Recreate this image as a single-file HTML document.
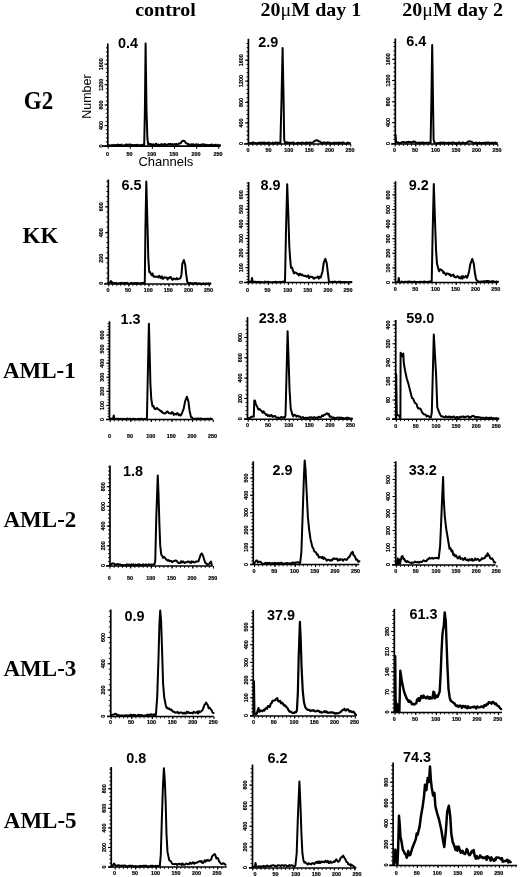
<!DOCTYPE html>
<html><head><meta charset="utf-8"><style>
html,body{margin:0;padding:0;background:#fff;width:520px;height:877px;overflow:hidden}
svg{position:absolute;left:0;top:0;filter:grayscale(1)}
.ax{stroke:#000;stroke-width:1.7;fill:none}
.mt{stroke:#000;stroke-width:0.9;fill:none}
.xm{stroke:#000;stroke-width:1;stroke-dasharray:0.8 4.2;fill:none}
.tk{stroke:#000;stroke-width:1.1;fill:none}
.tl{font-family:"Liberation Sans",sans-serif;font-weight:bold;font-size:5.4px;text-anchor:middle;fill:#000;stroke:#000;stroke-width:0.2px}
.num{font-family:"Liberation Sans",sans-serif;font-weight:bold;font-size:14.4px;fill:#000}
.cv{stroke:#000;stroke-width:2;fill:none;stroke-linejoin:round;stroke-linecap:round}
.hd{font-family:"Liberation Serif",serif;font-weight:bold;font-size:20px;fill:#000}
.rl{font-family:"Liberation Serif",serif;font-weight:bold;font-size:23px;fill:#000}
.al{font-family:"Liberation Sans",sans-serif;font-size:13px;fill:#000}
</style></head><body>
<svg width="520" height="877" viewBox="0 0 520 877">
<text class="hd" transform="translate(135.2 16.4) scale(1 0.9)">control</text>
<text class="hd" transform="translate(260.6 16.2) scale(1 0.9)">20<tspan font-weight="normal">&#956;</tspan>M day 1</text>
<text class="hd" transform="translate(402.3 16.2) scale(1 0.9)">20<tspan font-weight="normal">&#956;</tspan>M day 2</text>
<text class="rl" transform="translate(23.8 109.3) scale(1 1.05)">G2</text>
<text class="rl" x="22.5" y="243">KK</text>
<text class="rl" x="2.9" y="378.1">AML-1</text>
<text class="rl" x="3.5" y="526.5">AML-2</text>
<text class="rl" x="3.5" y="675.8">AML-3</text>
<text class="rl" x="3.8" y="827.5">AML-5</text>
<text class="al" style="font-size:12.5px" transform="translate(90.6 96.6) rotate(-90)" text-anchor="middle">Number</text>
<text class="al" x="138.4" y="165.6">Channels</text>
<path d="M107.8 43.5V146.2" class="ax"/>
<path d="M102 146.2H220.4" class="ax"/>
<path d="M105.8 141.91H107.8M105.8 137.82H107.8M105.8 133.73H107.8M105.8 129.64H107.8M105.8 125.55H107.8M105.8 121.46H107.8M105.8 117.37H107.8M105.8 113.28H107.8M105.8 109.19H107.8M105.8 105.1H107.8M105.8 101.01H107.8M105.8 96.92H107.8M105.8 92.83H107.8M105.8 88.74H107.8M105.8 84.65H107.8M105.8 80.56H107.8M105.8 76.47H107.8M105.8 72.38H107.8M105.8 68.29H107.8M105.8 64.2H107.8M105.8 60.11H107.8M105.8 56.02H107.8M105.8 51.93H107.8M105.8 47.84H107.8" class="mt"/>
<path d="M104.6 146H107.8" class="tk"/>
<text class="tl" transform="translate(102.5 146) rotate(-90)">0</text>
<path d="M104.6 125.6H107.8" class="tk"/>
<text class="tl" transform="translate(102.5 125.6) rotate(-90)">400</text>
<path d="M104.6 105H107.8" class="tk"/>
<text class="tl" transform="translate(102.5 105) rotate(-90)">800</text>
<path d="M104.6 84.8H107.8" class="tk"/>
<text class="tl" transform="translate(102.5 84.8) rotate(-90)">1200</text>
<path d="M104.6 64.2H107.8" class="tk"/>
<text class="tl" transform="translate(102.5 64.2) rotate(-90)">1600</text>
<path d="M108.2 146.2V148.8" class="tk"/>
<text class="tl" x="107.5" y="156">0</text>
<path d="M130.3 146.2V148.8" class="tk"/>
<text class="tl" x="129.6" y="156">50</text>
<path d="M152.4 146.2V148.8" class="tk"/>
<text class="tl" x="151.7" y="156">100</text>
<path d="M174.5 146.2V148.8" class="tk"/>
<text class="tl" x="173.8" y="156">150</text>
<path d="M196.6 146.2V148.8" class="tk"/>
<text class="tl" x="195.9" y="156">200</text>
<path d="M218.7 146.2V148.8" class="tk"/>
<text class="tl" x="218" y="156">250</text>
<text class="num" x="118" y="47.6">0.4</text>
<path d="M108 145.3 L108.8 145.23 L109.6 145.34 L110.4 145.75 L111.2 145.2 L112 145.24 L112.8 145.32 L113.6 144.82 L114.4 145.2 L115.2 145.33 L116 145.52 L116.8 144.65 L117.6 144.89 L118.4 144.61 L119.2 145.5 L120 145.09 L120.8 145.34 L121.6 144.51 L122.4 145.69 L123.2 145.67 L124 145.27 L124.8 145.22 L125.6 144.63 L126.4 144.44 L127.2 145.09 L128 144.49 L128.8 144.65 L129.6 144.71 L130.4 144.44 L131.2 144.99 L132 144.96 L132.8 145.47 L133.6 145.05 L134.4 145.2 L135.2 145.02 L136 145.23 L136.8 144.95 L137.6 144.72 L138.4 145.66 L139.2 145.65 L140 144.99 L140.84 145.44 L141.68 145.27 L142.52 144.75 L143.36 144.64 L144.2 144.99 L144.9 110.33 L145.6 43.5 L146.5 110.33 L147.4 138.46 L148.2 144.29 L149.04 143.97 L149.89 143.65 L150.73 144.81 L151.57 144.25 L152.41 144.99 L153.26 144.28 L154.1 145.21 L154.94 145.06 L155.79 143.78 L156.63 144.13 L157.47 145.23 L158.31 144.59 L159.16 145.38 L160 144.69 L160.82 144.53 L161.64 144.04 L162.45 144.86 L163.27 145.07 L164.09 144.3 L164.91 144.02 L165.73 144.38 L166.55 145.32 L167.36 145 L168.18 144.02 L169 144.21 L169.82 143.97 L170.64 143.9 L171.45 145.02 L172.27 144.06 L173.09 144.64 L173.91 144.46 L174.73 144.05 L175.55 144.88 L176.36 143.93 L177.18 144.73 L178 144.49 L178.83 143.42 L179.67 143.54 L180.5 143.29 L182 141.28 L183.3 140.67 L184.6 141.28 L186 143.29 L187 143.36 L188 144.49 L188.8 144.16 L189.6 145.27 L190.4 145.04 L191.2 144.3 L192 145.21 L192.8 144.22 L193.6 144.52 L194.4 145.23 L195.2 144.94 L196 144.18 L196.8 145.48 L197.6 144.41 L198.4 144.5 L199.2 145.24 L200 144.89 L200.8 144.67 L201.6 144.63 L202.4 144.34 L203.2 144.37 L204 145.05 L204.8 144.6 L205.6 145.09 L206.4 144.79 L207.2 144.9 L208 145.58 L208.8 144.96 L209.6 145.09 L210.4 145.48 L211.2 144.59 L212 144.56 L212.8 145.55 L213.6 145.44 L214.4 144.71 L215.2 144.65 L216 145.36 L216.8 145.63 L217.6 144.68 L218.4 145.65 L219.2 145.57 L220 145.09" class="cv"/>
<path d="M248.4 38.7V144" class="ax"/>
<path d="M244 144H350.4" class="ax"/>
<path d="M246.4 139.43H248.4M246.4 135.26H248.4M246.4 131.09H248.4M246.4 126.92H248.4M246.4 122.75H248.4M246.4 118.58H248.4M246.4 114.41H248.4M246.4 110.24H248.4M246.4 106.07H248.4M246.4 101.9H248.4M246.4 97.73H248.4M246.4 93.56H248.4M246.4 89.39H248.4M246.4 85.22H248.4M246.4 81.05H248.4M246.4 76.88H248.4M246.4 72.71H248.4M246.4 68.54H248.4M246.4 64.37H248.4M246.4 60.2H248.4M246.4 56.03H248.4M246.4 51.86H248.4M246.4 47.69H248.4M246.4 43.52H248.4" class="mt"/>
<path d="M252.78 144V145.9M256.86 144V145.9M260.94 144V145.9M265.02 144V145.9M269.1 144V145.9M273.18 144V145.9M277.26 144V145.9M281.34 144V145.9M285.42 144V145.9M289.5 144V145.9M293.58 144V145.9M297.66 144V145.9M301.74 144V145.9M305.82 144V145.9M309.9 144V145.9M313.98 144V145.9M318.06 144V145.9M322.14 144V145.9M326.22 144V145.9M330.3 144V145.9M334.38 144V145.9M338.46 144V145.9M342.54 144V145.9M346.62 144V145.9" class="mt"/>
<path d="M245.2 143.6H248.4" class="tk"/>
<text class="tl" transform="translate(243.1 143.6) rotate(-90)">0</text>
<path d="M245.2 123H248.4" class="tk"/>
<text class="tl" transform="translate(243.1 123) rotate(-90)">400</text>
<path d="M245.2 102.4H248.4" class="tk"/>
<text class="tl" transform="translate(243.1 102.4) rotate(-90)">800</text>
<path d="M245.2 81.1H248.4" class="tk"/>
<text class="tl" transform="translate(243.1 81.1) rotate(-90)">1200</text>
<path d="M245.2 60.2H248.4" class="tk"/>
<text class="tl" transform="translate(243.1 60.2) rotate(-90)">1600</text>
<path d="M248.7 144V146.6" class="tk"/>
<text class="tl" x="248" y="151.8">0</text>
<path d="M269.1 144V146.6" class="tk"/>
<text class="tl" x="268.4" y="151.8">50</text>
<path d="M289.5 144V146.6" class="tk"/>
<text class="tl" x="288.8" y="151.8">100</text>
<path d="M309.9 144V146.6" class="tk"/>
<text class="tl" x="309.2" y="151.8">150</text>
<path d="M330.3 144V146.6" class="tk"/>
<text class="tl" x="329.6" y="151.8">200</text>
<path d="M350.7 144V146.6" class="tk"/>
<text class="tl" x="350" y="151.8">250</text>
<text class="num" x="258.3" y="46.8">2.9</text>
<path d="M249 143 L249.81 142.96 L250.62 143.18 L251.42 143.2 L252.23 142.57 L253.04 142.41 L253.85 142.84 L254.65 142.72 L255.46 143.37 L256.27 143.22 L257.08 143.12 L257.88 143.07 L258.69 143.19 L259.5 142.57 L260.31 142.92 L261.12 142.59 L261.92 143.48 L262.73 142.46 L263.54 143.38 L264.35 142.48 L265.15 143.22 L265.96 142.8 L266.77 142.88 L267.58 143.41 L268.38 142.42 L269.19 142.47 L270 143 L270.87 143.49 L271.73 143.01 L272.6 142.5 L273.47 143.58 L274.33 143.53 L275.2 142.53 L276.07 142.9 L276.93 142.56 L277.8 142.77 L278.67 143.14 L279.53 142.59 L280.4 143 L281.5 100.29 L282.6 48.04 L283.6 100.29 L284.2 139.48 L285 142.79 L285.83 143.06 L286.67 142.23 L287.5 142.4 L288.33 143.25 L289.17 142.72 L290 142.76 L290.83 142.99 L291.67 142.85 L292.5 142.75 L293.33 142.32 L294.17 143.2 L295 143.51 L295.83 143.53 L296.67 143.15 L297.5 142.79 L298.33 142.81 L299.17 143.21 L300 143 L300.8 143.19 L301.6 142.5 L302.4 142.63 L303.2 142.77 L304 142.94 L304.8 143.3 L305.6 142.9 L306.4 142.29 L307.2 143.29 L308 142.77 L308.8 142.87 L309.6 142.47 L310.4 142.73 L311.2 142.66 L312 142.79 L313 142.59 L314 141.49 L315.5 140.48 L316.6 140.28 L317.8 140.48 L319 141.49 L320 141.55 L321 142.89 L321.81 142.96 L322.61 142.5 L323.42 143.16 L324.22 142.34 L325.03 142.64 L325.83 142.73 L326.64 143.1 L327.44 142.39 L328.25 142.89 L329.06 142.59 L329.86 142.69 L330.67 142.93 L331.47 143.53 L332.28 142.95 L333.08 143.53 L333.89 142.58 L334.69 143.5 L335.5 142.83 L336.31 142.63 L337.11 143.3 L337.92 143.5 L338.72 142.43 L339.53 142.75 L340.33 143.35 L341.14 142.85 L341.94 142.74 L342.75 142.47 L343.56 142.51 L344.36 143.2 L345.17 143.62 L345.97 143.65 L346.78 143.08 L347.58 142.53 L348.39 142.88 L349.19 143.42 L350 143.1" class="cv"/>
<path d="M395.3 38.5V144" class="ax"/>
<path d="M391 144H497" class="ax"/>
<path d="M393.3 139.38H395.3M393.3 135.17H395.3M393.3 130.95H395.3M393.3 126.74H395.3M393.3 122.52H395.3M393.3 118.31H395.3M393.3 114.09H395.3M393.3 109.88H395.3M393.3 105.66H395.3M393.3 101.45H395.3M393.3 97.23H395.3M393.3 93.02H395.3M393.3 88.8H395.3M393.3 84.59H395.3M393.3 80.37H395.3M393.3 76.16H395.3M393.3 71.94H395.3M393.3 67.73H395.3M393.3 63.51H395.3M393.3 59.3H395.3M393.3 55.08H395.3M393.3 50.87H395.3M393.3 46.65H395.3M393.3 42.44H395.3" class="mt"/>
<path d="M399.3 144V145.9M403.4 144V145.9M407.5 144V145.9M411.6 144V145.9M415.7 144V145.9M419.8 144V145.9M423.9 144V145.9M428 144V145.9M432.1 144V145.9M436.2 144V145.9M440.3 144V145.9M444.4 144V145.9M448.5 144V145.9M452.6 144V145.9M456.7 144V145.9M460.8 144V145.9M464.9 144V145.9M469 144V145.9M473.1 144V145.9M477.2 144V145.9M481.3 144V145.9M485.4 144V145.9M489.5 144V145.9M493.6 144V145.9" class="mt"/>
<path d="M392.1 143.6H395.3" class="tk"/>
<text class="tl" transform="translate(390 143.6) rotate(-90)">0</text>
<path d="M392.1 122.6H395.3" class="tk"/>
<text class="tl" transform="translate(390 122.6) rotate(-90)">400</text>
<path d="M392.1 101.8H395.3" class="tk"/>
<text class="tl" transform="translate(390 101.8) rotate(-90)">800</text>
<path d="M392.1 80.5H395.3" class="tk"/>
<text class="tl" transform="translate(390 80.5) rotate(-90)">1200</text>
<path d="M392.1 59.3H395.3" class="tk"/>
<text class="tl" transform="translate(390 59.3) rotate(-90)">1600</text>
<path d="M395.2 144V146.6" class="tk"/>
<text class="tl" x="394.5" y="151.8">0</text>
<path d="M415.7 144V146.6" class="tk"/>
<text class="tl" x="415" y="151.8">50</text>
<path d="M436.2 144V146.6" class="tk"/>
<text class="tl" x="435.5" y="151.8">100</text>
<path d="M456.7 144V146.6" class="tk"/>
<text class="tl" x="456" y="151.8">150</text>
<path d="M477.2 144V146.6" class="tk"/>
<text class="tl" x="476.5" y="151.8">200</text>
<path d="M497.7 144V146.6" class="tk"/>
<text class="tl" x="497" y="151.8">250</text>
<text class="num" x="406.2" y="46.4">6.4</text>
<path d="M395.6 134.96 L396 141.49 L397.5 142.79 L398.33 142.44 L399.17 142.98 L400 142.95 L400.83 143.15 L401.67 142.18 L402.5 142.21 L403.33 142.05 L404.17 142.13 L405 142.49 L405.88 142.79 L406.75 141.83 L407.62 142.39 L408.5 141.84 L409.38 141.91 L410.25 142.08 L411.12 142.69 L412 142.09 L412.8 142.31 L413.6 141.38 L414.4 141.85 L415.2 141.69 L416 142.87 L416.8 142.81 L417.6 142.84 L418.4 142.91 L419.2 142.82 L420 142.49 L420.82 143.18 L421.63 142.99 L422.45 142.26 L423.26 143.14 L424.08 142.67 L424.89 143.07 L425.71 142.85 L426.52 142.71 L427.34 142.67 L428.15 142.79 L428.97 142.69 L429.78 142.49 L430.6 143 L431.4 100.29 L432.2 45.03 L433 100.29 L433.6 139.48 L434.5 142.79 L435.32 143.22 L436.13 143.2 L436.95 143.46 L437.76 143.08 L438.58 142.92 L439.39 143.18 L440.21 142.4 L441.03 143.1 L441.84 142.82 L442.66 142.49 L443.47 142.54 L444.29 142.95 L445.11 142.63 L445.92 142.89 L446.74 143.08 L447.55 142.84 L448.37 142.53 L449.18 142.97 L450 143 L450.8 142.67 L451.6 142.65 L452.4 142.59 L453.2 142.79 L454 142.42 L454.8 143.12 L455.6 143.49 L456.4 142.78 L457.2 143.18 L458 143.44 L458.8 142.31 L459.6 142.42 L460.4 143.26 L461.2 143.29 L462 143.02 L462.8 142.39 L463.6 142.71 L464.4 143.3 L465.2 143.31 L466 142.79 L467 142.72 L468 141.69 L469.5 141.29 L471 141.69 L472 141.83 L473 142.89 L473.8 143.35 L474.6 142.75 L475.4 143.19 L476.2 142.47 L477 143.51 L477.8 143.06 L478.6 143.22 L479.4 142.59 L480.2 143.1 L481 143.06 L481.8 143.08 L482.6 142.8 L483.4 143.26 L484.2 142.8 L485 142.75 L485.8 142.6 L486.6 143.23 L487.4 142.55 L488.2 142.7 L489 142.52 L489.8 143.2 L490.6 143.11 L491.4 143.1 L492.2 142.52 L493 142.99 L493.8 142.89 L494.6 142.61 L495.4 142.51 L496.2 143.66 L497 143.1" class="cv"/>
<path d="M108.3 179.5V284" class="ax"/>
<path d="M104 284H210.8" class="ax"/>
<path d="M106.3 278.2H108.3M106.3 273.1H108.3M106.3 268H108.3M106.3 262.9H108.3M106.3 257.8H108.3M106.3 252.7H108.3M106.3 247.6H108.3M106.3 242.5H108.3M106.3 237.4H108.3M106.3 232.3H108.3M106.3 227.2H108.3M106.3 222.1H108.3M106.3 217H108.3M106.3 211.9H108.3M106.3 206.8H108.3M106.3 201.7H108.3M106.3 196.6H108.3M106.3 191.5H108.3M106.3 186.4H108.3M106.3 181.3H108.3" class="mt"/>
<path d="M112.72 284V285.9M116.74 284V285.9M120.76 284V285.9M124.78 284V285.9M128.8 284V285.9M132.82 284V285.9M136.84 284V285.9M140.86 284V285.9M144.88 284V285.9M148.9 284V285.9M152.92 284V285.9M156.94 284V285.9M160.96 284V285.9M164.98 284V285.9M169 284V285.9M173.02 284V285.9M177.04 284V285.9M181.06 284V285.9M185.08 284V285.9M189.1 284V285.9M193.12 284V285.9M197.14 284V285.9M201.16 284V285.9M205.18 284V285.9M209.2 284V285.9" class="mt"/>
<path d="M105.1 283.3H108.3" class="tk"/>
<text class="tl" transform="translate(103 283.3) rotate(-90)">0</text>
<path d="M105.1 258.2H108.3" class="tk"/>
<text class="tl" transform="translate(103 258.2) rotate(-90)">200</text>
<path d="M105.1 232.8H108.3" class="tk"/>
<text class="tl" transform="translate(103 232.8) rotate(-90)">400</text>
<path d="M105.1 206.8H108.3" class="tk"/>
<text class="tl" transform="translate(103 206.8) rotate(-90)">600</text>
<path d="M108.7 284V286.6" class="tk"/>
<text class="tl" x="108" y="292.1">0</text>
<path d="M128.8 284V286.6" class="tk"/>
<text class="tl" x="128.1" y="292.1">50</text>
<path d="M148.9 284V286.6" class="tk"/>
<text class="tl" x="148.2" y="292.1">100</text>
<path d="M169 284V286.6" class="tk"/>
<text class="tl" x="168.3" y="292.1">150</text>
<path d="M189.1 284V286.6" class="tk"/>
<text class="tl" x="188.4" y="292.1">200</text>
<path d="M209.2 284V286.6" class="tk"/>
<text class="tl" x="208.5" y="292.1">250</text>
<text class="num" x="121.5" y="190.3">6.5</text>
<path d="M108.5 283.3 L110 282.49 L111 280.99 L112 283 L112.8 282.63 L113.6 283.28 L114.4 283.24 L115.2 283.09 L116 282.83 L116.8 283.49 L117.6 283.54 L118.4 283.25 L119.2 283.27 L120 283.3 L120.8 283.03 L121.6 282.8 L122.4 283.17 L123.2 283.38 L124 282.86 L124.8 283.59 L125.6 283.03 L126.4 283.03 L127.2 282.84 L128 283.8 L128.8 283.54 L129.6 283.67 L130.4 283.41 L131.2 282.83 L132 283.12 L132.8 283.29 L133.6 282.91 L134.4 283.75 L135.2 283.16 L136 282.95 L136.8 283.62 L137.6 282.92 L138.4 283.73 L139.2 283.25 L140 283.35 L140.8 283.14 L141.6 283.28 L142.4 282.98 L143.2 282.83 L144 283.66 L144.8 283.3 L145.4 230.24 L146.3 181.51 L147.5 225.22 L148.3 258.38 L149.2 271.94 L150 271.84 L150.8 273.85 L151.66 275.26 L152.53 273.48 L153.39 276.6 L154.25 276.66 L155.11 276.5 L155.97 276.86 L156.84 276.58 L157.7 276.66 L158.52 277.52 L159.34 275.69 L160.16 276.93 L160.99 278.15 L161.81 276.31 L162.63 278.66 L163.45 278.66 L164.27 277.31 L165.09 277.29 L165.91 277.67 L166.74 277.59 L167.56 279.49 L168.38 277.83 L169.2 278.27 L170.05 276.99 L170.89 277.25 L171.74 279.08 L172.58 279.91 L173.43 278.58 L174.27 278.63 L175.12 278.86 L175.96 279.46 L176.81 278.09 L177.65 279.21 L178.5 278.98 L179.5 278.63 L180.5 277.97 L181.5 274.45 L182.3 263.9 L183.8 259.99 L185.2 264.61 L186.1 273.85 L187.3 281.99 L188.15 282.81 L189 283.3 L189.83 282.98 L190.65 282.98 L191.48 283.17 L192.31 283.75 L193.13 283.19 L193.96 283.44 L194.79 283.16 L195.62 282.98 L196.44 282.95 L197.27 283.67 L198.1 283.64 L198.92 283.27 L199.75 283.57 L200.58 283.57 L201.4 283.78 L202.23 283.84 L203.06 283.34 L203.88 283.88 L204.71 283.86 L205.54 283.53 L206.37 283.8 L207.19 283.46 L208.02 283.37 L208.85 283.26 L209.67 283.81 L210.5 283.5" class="cv"/>
<path d="M248.6 182V282.5" class="ax"/>
<path d="M244 282.5H351.8" class="ax"/>
<path d="M246.6 279.38H248.6M246.6 276.46H248.6M246.6 273.54H248.6M246.6 270.62H248.6M246.6 267.7H248.6M246.6 264.78H248.6M246.6 261.86H248.6M246.6 258.94H248.6M246.6 256.02H248.6M246.6 253.1H248.6M246.6 250.18H248.6M246.6 247.26H248.6M246.6 244.34H248.6M246.6 241.42H248.6M246.6 238.5H248.6M246.6 235.58H248.6M246.6 232.66H248.6M246.6 229.74H248.6M246.6 226.82H248.6M246.6 223.9H248.6M246.6 220.98H248.6M246.6 218.06H248.6M246.6 215.14H248.6M246.6 212.22H248.6M246.6 209.3H248.6M246.6 206.38H248.6M246.6 203.46H248.6M246.6 200.54H248.6M246.6 197.62H248.6M246.6 194.7H248.6M246.6 191.78H248.6M246.6 188.86H248.6M246.6 185.94H248.6M246.6 183.02H248.6" class="mt"/>
<path d="M252.22 282.5V284.4M256.24 282.5V284.4M260.26 282.5V284.4M264.28 282.5V284.4M268.3 282.5V284.4M272.32 282.5V284.4M276.34 282.5V284.4M280.36 282.5V284.4M284.38 282.5V284.4M288.4 282.5V284.4M292.42 282.5V284.4M296.44 282.5V284.4M300.46 282.5V284.4M304.48 282.5V284.4M308.5 282.5V284.4M312.52 282.5V284.4M316.54 282.5V284.4M320.56 282.5V284.4M324.58 282.5V284.4M328.6 282.5V284.4M332.62 282.5V284.4M336.64 282.5V284.4M340.66 282.5V284.4M344.68 282.5V284.4M348.7 282.5V284.4" class="mt"/>
<path d="M245.4 282.3H248.6" class="tk"/>
<text class="tl" transform="translate(243.3 282.3) rotate(-90)">0</text>
<path d="M245.4 267.7H248.6" class="tk"/>
<text class="tl" transform="translate(243.3 267.7) rotate(-90)">100</text>
<path d="M245.4 253.1H248.6" class="tk"/>
<text class="tl" transform="translate(243.3 253.1) rotate(-90)">200</text>
<path d="M245.4 238.5H248.6" class="tk"/>
<text class="tl" transform="translate(243.3 238.5) rotate(-90)">300</text>
<path d="M245.4 223.9H248.6" class="tk"/>
<text class="tl" transform="translate(243.3 223.9) rotate(-90)">400</text>
<path d="M245.4 209.3H248.6" class="tk"/>
<text class="tl" transform="translate(243.3 209.3) rotate(-90)">500</text>
<path d="M245.4 194.7H248.6" class="tk"/>
<text class="tl" transform="translate(243.3 194.7) rotate(-90)">600</text>
<path d="M248.2 282.5V285.1" class="tk"/>
<text class="tl" x="247.5" y="292.1">0</text>
<path d="M268.3 282.5V285.1" class="tk"/>
<text class="tl" x="267.6" y="292.1">50</text>
<path d="M288.4 282.5V285.1" class="tk"/>
<text class="tl" x="287.7" y="292.1">100</text>
<path d="M308.5 282.5V285.1" class="tk"/>
<text class="tl" x="307.8" y="292.1">150</text>
<path d="M328.6 282.5V285.1" class="tk"/>
<text class="tl" x="327.9" y="292.1">200</text>
<path d="M348.7 282.5V285.1" class="tk"/>
<text class="tl" x="348" y="292.1">250</text>
<text class="num" x="260.5" y="190">8.9</text>
<path d="M248 282 L248.88 282.39 L249.75 281.69 L250.62 281.59 L251.5 282 L252 277.98 L252.8 282 L253.61 282.42 L254.41 281.73 L255.22 281.67 L256.02 282.13 L256.82 281.87 L257.63 282.33 L258.44 281.77 L259.24 282.39 L260.05 281.84 L260.85 282.08 L261.66 282.37 L262.46 282.16 L263.26 282.36 L264.07 282.17 L264.88 281.61 L265.68 282.32 L266.49 282.07 L267.29 281.84 L268.1 281.73 L268.9 282.3 L269.7 282.07 L270.51 282.37 L271.31 282.23 L272.12 282.39 L272.93 282.05 L273.73 282.17 L274.54 282.09 L275.34 281.79 L276.14 282.39 L276.95 281.84 L277.75 282.24 L278.56 282.38 L279.37 282.13 L280.17 281.69 L280.98 282.27 L281.78 282.14 L282.58 281.73 L283.39 281.61 L284.19 282.02 L285 282 L286 230.24 L287.2 184.21 L288.4 216.17 L289.3 246.22 L290.2 259.38 L291 267.83 L292.1 267.62 L293.2 271.44 L294 273.51 L294.8 272.27 L295.6 272.72 L296.4 272.72 L297.2 274.04 L298 273.86 L298.86 275.56 L299.71 273.71 L300.57 274.21 L301.43 275.16 L302.29 274.49 L303.14 275.71 L304 275.67 L304.86 275.97 L305.71 275.81 L306.57 276.71 L307.43 276.44 L308.29 275.32 L309.14 278.13 L310 276.87 L310.86 276.58 L311.71 276.91 L312.57 276.95 L313.43 278.5 L314.29 278.67 L315.14 277.59 L316 277.68 L316.94 277.37 L317.88 276.52 L318.82 278.61 L319.76 276.63 L320.7 277.48 L322.5 271.44 L323.7 263 L325.3 258.78 L326.7 263 L327.7 271.44 L328.9 281.09 L330.3 282 L331.12 282.04 L331.93 281.87 L332.75 281.85 L333.56 281.88 L334.38 281.73 L335.19 281.6 L336.01 282.03 L336.82 282.25 L337.64 282.12 L338.45 281.74 L339.27 282.16 L340.08 281.62 L340.9 281.92 L341.72 282.28 L342.53 282.36 L343.35 281.96 L344.16 282.29 L344.98 282 L345.79 282.02 L346.61 282.07 L347.42 282.42 L348.24 282.2 L349.05 281.97 L349.87 282.19 L350.68 282.12 L351.5 282" class="cv"/>
<path d="M395.5 181.25V282.5" class="ax"/>
<path d="M392 282.5H498" class="ax"/>
<path d="M393.5 279.58H395.5M393.5 276.66H395.5M393.5 273.74H395.5M393.5 270.82H395.5M393.5 267.9H395.5M393.5 264.98H395.5M393.5 262.06H395.5M393.5 259.14H395.5M393.5 256.22H395.5M393.5 253.3H395.5M393.5 250.38H395.5M393.5 247.46H395.5M393.5 244.54H395.5M393.5 241.62H395.5M393.5 238.7H395.5M393.5 235.78H395.5M393.5 232.86H395.5M393.5 229.94H395.5M393.5 227.02H395.5M393.5 224.1H395.5M393.5 221.18H395.5M393.5 218.26H395.5M393.5 215.34H395.5M393.5 212.42H395.5M393.5 209.5H395.5M393.5 206.58H395.5M393.5 203.66H395.5M393.5 200.74H395.5M393.5 197.82H395.5M393.5 194.9H395.5M393.5 191.98H395.5M393.5 189.06H395.5M393.5 186.14H395.5M393.5 183.22H395.5" class="mt"/>
<path d="M399.92 282.5V284.4M403.94 282.5V284.4M407.96 282.5V284.4M411.98 282.5V284.4M416 282.5V284.4M420.02 282.5V284.4M424.04 282.5V284.4M428.06 282.5V284.4M432.08 282.5V284.4M436.1 282.5V284.4M440.12 282.5V284.4M444.14 282.5V284.4M448.16 282.5V284.4M452.18 282.5V284.4M456.2 282.5V284.4M460.22 282.5V284.4M464.24 282.5V284.4M468.26 282.5V284.4M472.28 282.5V284.4M476.3 282.5V284.4M480.32 282.5V284.4M484.34 282.5V284.4M488.36 282.5V284.4M492.38 282.5V284.4M496.4 282.5V284.4" class="mt"/>
<path d="M392.3 282.5H395.5" class="tk"/>
<text class="tl" transform="translate(390.2 282.5) rotate(-90)">0</text>
<path d="M392.3 267.9H395.5" class="tk"/>
<text class="tl" transform="translate(390.2 267.9) rotate(-90)">100</text>
<path d="M392.3 253.3H395.5" class="tk"/>
<text class="tl" transform="translate(390.2 253.3) rotate(-90)">200</text>
<path d="M392.3 238.7H395.5" class="tk"/>
<text class="tl" transform="translate(390.2 238.7) rotate(-90)">300</text>
<path d="M392.3 224.1H395.5" class="tk"/>
<text class="tl" transform="translate(390.2 224.1) rotate(-90)">400</text>
<path d="M392.3 209.5H395.5" class="tk"/>
<text class="tl" transform="translate(390.2 209.5) rotate(-90)">500</text>
<path d="M392.3 194.9H395.5" class="tk"/>
<text class="tl" transform="translate(390.2 194.9) rotate(-90)">600</text>
<path d="M395.9 282.5V285.1" class="tk"/>
<text class="tl" x="395.2" y="290.8">0</text>
<path d="M416 282.5V285.1" class="tk"/>
<text class="tl" x="415.3" y="290.8">50</text>
<path d="M436.1 282.5V285.1" class="tk"/>
<text class="tl" x="435.4" y="290.8">100</text>
<path d="M456.2 282.5V285.1" class="tk"/>
<text class="tl" x="455.5" y="290.8">150</text>
<path d="M476.3 282.5V285.1" class="tk"/>
<text class="tl" x="475.6" y="290.8">200</text>
<path d="M496.4 282.5V285.1" class="tk"/>
<text class="tl" x="495.7" y="290.8">250</text>
<text class="num" x="408.75" y="189.5">9.2</text>
<path d="M396 282 L397.1 282.36 L398.2 282 L398.75 277.98 L399.4 282 L400.21 282.38 L401.01 282.32 L401.82 281.62 L402.63 282.06 L403.44 281.91 L404.25 281.99 L405.05 281.64 L405.86 281.69 L406.67 281.9 L407.47 281.7 L408.28 281.9 L409.09 281.51 L409.9 281.56 L410.7 282.12 L411.51 281.85 L412.32 281.93 L413.13 282.13 L413.94 281.78 L414.74 281.49 L415.55 282.16 L416.36 281.98 L417.16 282.04 L417.97 282 L418.78 282.32 L419.59 281.74 L420.39 282.11 L421.2 281.74 L422.01 281.93 L422.82 282.01 L423.62 281.67 L424.43 281.44 L425.24 281.81 L426.05 282.05 L426.85 281.92 L427.66 281.77 L428.47 281.96 L429.28 281.5 L430.08 281.49 L430.89 281.62 L431.7 281.8 L432.7 230.24 L433.8 184.11 L435 220.9 L436 249.03 L437 263.81 L438.4 269.33 L439.22 271.28 L440.03 269.28 L440.85 269.58 L441.67 270.17 L442.48 270.59 L443.3 272.95 L444.17 272.39 L445.04 273.73 L445.91 274.87 L446.79 273.39 L447.66 273.8 L448.53 273.79 L449.4 274.76 L450.21 274.33 L451.02 276.09 L451.83 275.55 L452.64 274.85 L453.46 274.6 L454.27 276.9 L455.08 276.87 L455.89 277.43 L456.7 276.67 L457.51 276.01 L458.32 276.98 L459.13 278.12 L459.94 277.29 L460.76 278.36 L461.57 276.29 L462.38 278.6 L463.19 276.18 L464 277.48 L464.93 277.04 L465.85 275.74 L466.77 277.75 L467.7 276.67 L469.1 271.14 L470.4 263.81 L472.3 258.88 L473.8 263.81 L475 273.56 L476.2 279.69 L477.7 281.09 L478.51 281.38 L479.32 281.81 L480.14 281.6 L480.95 281.82 L481.76 281.29 L482.57 281.91 L483.38 281.62 L484.2 281.12 L485.01 281.96 L485.82 281.22 L486.63 281.02 L487.44 280.9 L488.26 281.42 L489.07 281.12 L489.88 282.03 L490.69 282.07 L491.5 281.24 L492.32 281.15 L493.13 281.66 L493.94 281.29 L494.75 281.73 L495.56 282.05 L496.38 281.48 L497.19 281.69 L498 281.8" class="cv"/>
<path d="M109.5 321.25V419.5" class="ax"/>
<path d="M106 419.5H212.3" class="ax"/>
<path d="M107.5 416.68H109.5M107.5 413.87H109.5M107.5 411.05H109.5M107.5 408.24H109.5M107.5 405.42H109.5M107.5 402.6H109.5M107.5 399.79H109.5M107.5 396.97H109.5M107.5 394.16H109.5M107.5 391.34H109.5M107.5 388.52H109.5M107.5 385.71H109.5M107.5 382.89H109.5M107.5 380.08H109.5M107.5 377.26H109.5M107.5 374.44H109.5M107.5 371.63H109.5M107.5 368.81H109.5M107.5 366H109.5M107.5 363.18H109.5M107.5 360.36H109.5M107.5 357.55H109.5M107.5 354.73H109.5M107.5 351.92H109.5M107.5 349.1H109.5M107.5 346.28H109.5M107.5 343.47H109.5M107.5 340.65H109.5M107.5 337.84H109.5M107.5 335.02H109.5M107.5 332.2H109.5M107.5 329.39H109.5M107.5 326.57H109.5M107.5 323.76H109.5" class="mt"/>
<path d="M114.32 419.5V421.4M118.44 419.5V421.4M122.56 419.5V421.4M126.68 419.5V421.4M130.8 419.5V421.4M134.92 419.5V421.4M139.04 419.5V421.4M143.16 419.5V421.4M147.28 419.5V421.4M151.4 419.5V421.4M155.52 419.5V421.4M159.64 419.5V421.4M163.76 419.5V421.4M167.88 419.5V421.4M172 419.5V421.4M176.12 419.5V421.4M180.24 419.5V421.4M184.36 419.5V421.4M188.48 419.5V421.4M192.6 419.5V421.4M196.72 419.5V421.4M200.84 419.5V421.4M204.96 419.5V421.4M209.08 419.5V421.4" class="mt"/>
<path d="M106.3 419.5H109.5" class="tk"/>
<text class="tl" transform="translate(104.2 419.5) rotate(-90)">0</text>
<path d="M106.3 405.42H109.5" class="tk"/>
<text class="tl" transform="translate(104.2 405.42) rotate(-90)">100</text>
<path d="M106.3 391.34H109.5" class="tk"/>
<text class="tl" transform="translate(104.2 391.34) rotate(-90)">200</text>
<path d="M106.3 377.26H109.5" class="tk"/>
<text class="tl" transform="translate(104.2 377.26) rotate(-90)">300</text>
<path d="M106.3 363.18H109.5" class="tk"/>
<text class="tl" transform="translate(104.2 363.18) rotate(-90)">400</text>
<path d="M106.3 349.1H109.5" class="tk"/>
<text class="tl" transform="translate(104.2 349.1) rotate(-90)">500</text>
<path d="M106.3 335.02H109.5" class="tk"/>
<text class="tl" transform="translate(104.2 335.02) rotate(-90)">600</text>
<path d="M110.2 419.5V422.1" class="tk"/>
<text class="tl" x="109.5" y="438.1">0</text>
<path d="M130.8 419.5V422.1" class="tk"/>
<text class="tl" x="130.1" y="438.1">50</text>
<path d="M151.4 419.5V422.1" class="tk"/>
<text class="tl" x="150.7" y="438.1">100</text>
<path d="M172 419.5V422.1" class="tk"/>
<text class="tl" x="171.3" y="438.1">150</text>
<path d="M192.6 419.5V422.1" class="tk"/>
<text class="tl" x="191.9" y="438.1">200</text>
<path d="M213.2 419.5V422.1" class="tk"/>
<text class="tl" x="212.5" y="438.1">250</text>
<text class="num" x="120.5" y="323.75">1.3</text>
<path d="M110 419 L111 418.58 L112 418.67 L113 419 L113.75 415.48 L114.5 419 L115.31 418.91 L116.12 419.15 L116.93 418.69 L117.74 418.67 L118.55 418.77 L119.36 419.22 L120.17 418.7 L120.98 419.2 L121.79 419.14 L122.6 418.69 L123.41 419.03 L124.22 418.95 L125.03 418.92 L125.84 419.42 L126.65 418.65 L127.46 418.59 L128.27 419.37 L129.08 418.91 L129.89 418.74 L130.7 418.85 L131.51 418.88 L132.32 419.38 L133.13 418.75 L133.94 418.76 L134.75 419.07 L135.56 419.04 L136.37 419.38 L137.18 419.29 L137.99 418.87 L138.8 418.75 L139.61 419.28 L140.42 419.41 L141.23 418.6 L142.04 419.2 L142.85 419.31 L143.66 419.13 L144.47 418.76 L145.28 419.25 L146.09 419.19 L146.9 419 L147.9 370.25 L148.9 323.71 L149.7 353.77 L150.4 383.52 L151.3 399.1 L152.5 406.23 L153.47 405.92 L154.43 408.74 L155.4 409.15 L156.26 408.34 L157.11 407.94 L157.97 409.31 L158.83 409.57 L159.69 410.06 L160.54 411.22 L161.4 410.96 L162.29 412.35 L163.18 412.98 L164.06 413.24 L164.95 413.5 L165.84 413.03 L166.72 411.69 L167.61 411.51 L168.5 412.77 L169.39 413.3 L170.28 413.21 L171.16 413.74 L172.05 412.16 L172.94 412.62 L173.82 414.89 L174.71 414.11 L175.6 413.97 L176.44 414.56 L177.29 412.93 L178.13 413.82 L178.97 415.28 L179.81 414.6 L180.66 415.58 L181.5 414.27 L183.7 408.64 L185.1 401.41 L186.9 396.68 L188.4 401.41 L189.6 410.96 L191 416.99 L191.9 417.37 L192.8 418.7 L193.63 418.66 L194.47 419.04 L195.3 418.68 L196.14 419.05 L196.97 418.83 L197.81 418.38 L198.64 418.38 L199.48 419.29 L200.31 418.44 L201.15 418.53 L201.98 418.68 L202.82 419.06 L203.65 419.2 L204.49 418.86 L205.32 418.89 L206.16 419.17 L206.99 418.72 L207.83 418.82 L208.66 419.05 L209.5 419.08 L210.33 418.57 L211.17 418.65 L212 419" class="cv"/>
<path d="M247.5 317V419.25" class="ax"/>
<path d="M244 419.25H352.5" class="ax"/>
<path d="M245.5 414.69H247.5M245.5 410.62H247.5M245.5 406.56H247.5M245.5 402.49H247.5M245.5 398.43H247.5M245.5 394.37H247.5M245.5 390.3H247.5M245.5 386.24H247.5M245.5 382.17H247.5M245.5 378.11H247.5M245.5 374.05H247.5M245.5 369.98H247.5M245.5 365.92H247.5M245.5 361.85H247.5M245.5 357.79H247.5M245.5 353.73H247.5M245.5 349.66H247.5M245.5 345.6H247.5M245.5 341.53H247.5M245.5 337.47H247.5M245.5 333.41H247.5M245.5 329.34H247.5M245.5 325.28H247.5M245.5 321.21H247.5" class="mt"/>
<path d="M252.32 419.25V421.15M256.44 419.25V421.15M260.56 419.25V421.15M264.68 419.25V421.15M268.8 419.25V421.15M272.92 419.25V421.15M277.04 419.25V421.15M281.16 419.25V421.15M285.28 419.25V421.15M289.4 419.25V421.15M293.52 419.25V421.15M297.64 419.25V421.15M301.76 419.25V421.15M305.88 419.25V421.15M310 419.25V421.15M314.12 419.25V421.15M318.24 419.25V421.15M322.36 419.25V421.15M326.48 419.25V421.15M330.6 419.25V421.15M334.72 419.25V421.15M338.84 419.25V421.15M342.96 419.25V421.15M347.08 419.25V421.15M351.2 419.25V421.15" class="mt"/>
<path d="M244.3 418.75H247.5" class="tk"/>
<text class="tl" transform="translate(242.2 418.75) rotate(-90)">0</text>
<path d="M244.3 398.43H247.5" class="tk"/>
<text class="tl" transform="translate(242.2 398.43) rotate(-90)">200</text>
<path d="M244.3 378.11H247.5" class="tk"/>
<text class="tl" transform="translate(242.2 378.11) rotate(-90)">400</text>
<path d="M244.3 357.79H247.5" class="tk"/>
<text class="tl" transform="translate(242.2 357.79) rotate(-90)">600</text>
<path d="M244.3 337.47H247.5" class="tk"/>
<text class="tl" transform="translate(242.2 337.47) rotate(-90)">800</text>
<path d="M248.2 419.25V421.85" class="tk"/>
<text class="tl" x="247.5" y="427.1">0</text>
<path d="M268.8 419.25V421.85" class="tk"/>
<text class="tl" x="268.1" y="427.1">50</text>
<path d="M289.4 419.25V421.85" class="tk"/>
<text class="tl" x="288.7" y="427.1">100</text>
<path d="M310 419.25V421.85" class="tk"/>
<text class="tl" x="309.3" y="427.1">150</text>
<path d="M330.6 419.25V421.85" class="tk"/>
<text class="tl" x="329.9" y="427.1">200</text>
<path d="M351.2 419.25V421.85" class="tk"/>
<text class="tl" x="350.5" y="427.1">250</text>
<text class="num" x="258.75" y="323">23.8</text>
<path d="M249 417.99 L250.3 417.79 L251.18 416.82 L252.05 416.7 L252.93 416.53 L253.8 416.59 L254.3 400.41 L254.9 400.41 L255.8 403.82 L257.2 406.74 L258.35 409.51 L259.5 409.05 L260.65 410.19 L261.8 411.36 L262.68 412.65 L263.55 411.27 L264.43 413.12 L265.3 413.67 L266.18 414.99 L267.05 414.49 L267.93 415.93 L268.8 415.18 L269.72 416.35 L270.64 415.45 L271.56 414.95 L272.48 416.83 L273.4 416.59 L274.32 416.04 L275.24 416.01 L276.16 417.48 L277.08 417.81 L278 417.39 L278.92 418.01 L279.84 418.26 L280.76 417.18 L281.68 417.09 L282.6 417.79 L283.65 417.24 L284.7 417.79 L285.5 415.48 L286.6 371.27 L287.6 331.37 L288.6 359.81 L289.5 388.75 L290.7 408.45 L292.4 414.88 L293.2 416.37 L294 414.67 L294.8 415.16 L295.6 415.25 L296.4 416.59 L297.23 415.86 L298.06 415.99 L298.89 416.71 L299.71 416.51 L300.54 416.91 L301.37 418.07 L302.2 417.49 L303.03 417.01 L303.86 418.07 L304.69 417.99 L305.51 417.77 L306.34 417.82 L307.17 418.15 L308 417.79 L308.8 417.9 L309.6 417.36 L310.4 417.48 L311.2 417.33 L312 417.54 L312.8 418.41 L313.6 417.54 L314.4 416.98 L315.2 417.58 L316 418.08 L316.8 417.49 L317.6 417.87 L318.4 416.89 L319.2 416.82 L320 417.49 L321 417.28 L322 415.59 L323 415.98 L323.83 415.02 L324.67 414.69 L325.5 414.48 L326.33 413.67 L327.17 413.26 L328 414.48 L328.83 413.87 L329.67 416.71 L330.5 416.29 L331.33 417.05 L332.17 417.89 L333 417.49 L333.83 417.52 L334.65 418.28 L335.48 418.18 L336.3 417.84 L337.13 417.75 L337.96 417.77 L338.78 417.4 L339.61 417.66 L340.43 418.2 L341.26 417.51 L342.09 418.45 L342.91 418.03 L343.74 418.2 L344.57 418.52 L345.39 418.33 L346.22 417.74 L347.04 417.93 L347.87 417.69 L348.7 417.78 L349.52 418.87 L350.35 418.51 L351.17 418.95 L352 418.5" class="cv"/>
<path d="M395.75 320V419.25" class="ax"/>
<path d="M392 419.25H498.75" class="ax"/>
<path d="M393.75 415H395.75M393.75 411.25H395.75M393.75 407.5H395.75M393.75 403.75H395.75M393.75 400H395.75M393.75 396.25H395.75M393.75 392.5H395.75M393.75 388.75H395.75M393.75 385H395.75M393.75 381.25H395.75M393.75 377.5H395.75M393.75 373.75H395.75M393.75 369.99H395.75M393.75 366.24H395.75M393.75 362.49H395.75M393.75 358.74H395.75M393.75 354.99H395.75M393.75 351.24H395.75M393.75 347.49H395.75M393.75 343.74H395.75M393.75 339.99H395.75M393.75 336.24H395.75M393.75 332.49H395.75M393.75 328.74H395.75M393.75 324.99H395.75M393.75 321.24H395.75" class="mt"/>
<path d="M400.47 419.25V421.15M404.49 419.25V421.15M408.51 419.25V421.15M412.53 419.25V421.15M416.55 419.25V421.15M420.57 419.25V421.15M424.59 419.25V421.15M428.61 419.25V421.15M432.63 419.25V421.15M436.65 419.25V421.15M440.67 419.25V421.15M444.69 419.25V421.15M448.71 419.25V421.15M452.73 419.25V421.15M456.75 419.25V421.15M460.77 419.25V421.15M464.79 419.25V421.15M468.81 419.25V421.15M472.83 419.25V421.15M476.85 419.25V421.15M480.87 419.25V421.15M484.89 419.25V421.15M488.91 419.25V421.15M492.93 419.25V421.15M496.95 419.25V421.15" class="mt"/>
<path d="M392.55 418.75H395.75" class="tk"/>
<text class="tl" transform="translate(390.45 418.75) rotate(-90)">0</text>
<path d="M392.55 400H395.75" class="tk"/>
<text class="tl" transform="translate(390.45 400) rotate(-90)">80</text>
<path d="M392.55 381.25H395.75" class="tk"/>
<text class="tl" transform="translate(390.45 381.25) rotate(-90)">160</text>
<path d="M392.55 362.49H395.75" class="tk"/>
<text class="tl" transform="translate(390.45 362.49) rotate(-90)">240</text>
<path d="M392.55 343.74H395.75" class="tk"/>
<text class="tl" transform="translate(390.45 343.74) rotate(-90)">320</text>
<path d="M392.55 324.99H395.75" class="tk"/>
<text class="tl" transform="translate(390.45 324.99) rotate(-90)">400</text>
<path d="M396.45 419.25V421.85" class="tk"/>
<text class="tl" x="395.75" y="427.6">0</text>
<path d="M416.55 419.25V421.85" class="tk"/>
<text class="tl" x="415.85" y="427.6">50</text>
<path d="M436.65 419.25V421.85" class="tk"/>
<text class="tl" x="435.95" y="427.6">100</text>
<path d="M456.75 419.25V421.85" class="tk"/>
<text class="tl" x="456.05" y="427.6">150</text>
<path d="M476.85 419.25V421.85" class="tk"/>
<text class="tl" x="476.15" y="427.6">200</text>
<path d="M496.95 419.25V421.85" class="tk"/>
<text class="tl" x="496.25" y="427.6">250</text>
<text class="num" x="406.25" y="323">59.0</text>
<path d="M396.2 418.5 L396.2 374.27 L396.8 414.48 L397.75 415.15 L398.7 415.48 L399.5 416.49 L400.4 418.5 L400.6 352.87 L401.5 354.36 L402.4 356.36 L403.3 353.47 L403.8 363.22 L405 370.25 L406.7 378.29 L408.5 384.12 L410.2 391.06 L412 398.09 L413.1 398.57 L414.2 401.41 L415.35 403.36 L416.5 403.82 L417.47 407.11 L418.43 408.63 L419.4 408.45 L420.55 408.81 L421.7 411.46 L422.55 413.04 L423.4 413.67 L424.2 414.39 L425 414.48 L425.8 414.88 L426.65 416.42 L427.5 415.8 L428.35 416.04 L429.2 416.59 L430.1 417.71 L431 417.19 L431.8 412.47 L433.8 334.57 L436.1 374.88 L437.3 407.34 L439 411.96 L440.15 414.59 L441.3 416.49 L442.27 416.34 L443.23 416.61 L444.2 417.19 L445.03 417.08 L445.86 416.18 L446.69 417.09 L447.51 417.23 L448.34 416.55 L449.17 417.27 L450 416.49 L450.83 417.48 L451.67 416.93 L452.5 417.32 L453.33 416.49 L454.17 416.58 L455 417.49 L455.83 418.23 L456.67 417.09 L457.5 416.94 L458.33 418.03 L459.17 417.76 L460 416.7 L460.83 417 L461.67 416.83 L462.5 416.85 L463.33 416.37 L464.17 417.23 L465 416.82 L465.83 416.94 L466.67 416.55 L467.5 416.38 L468.33 416.21 L469.17 417.69 L470 416.99 L470.83 417.13 L471.67 416.44 L472.5 415.98 L473.33 415.74 L474.17 416.36 L475 417.49 L475.81 416.93 L476.62 417.27 L477.43 416.91 L478.24 417.29 L479.05 417.22 L479.86 417.24 L480.67 417.96 L481.48 417.71 L482.29 417.76 L483.1 417.64 L483.91 417.93 L484.72 418.3 L485.53 417.68 L486.34 417.39 L487.16 417.99 L487.97 417.89 L488.78 418.44 L489.59 417.62 L490.4 418.62 L491.21 417.58 L492.02 418.27 L492.83 418.19 L493.64 418.07 L494.45 418.77 L495.26 418.59 L496.07 418.02 L496.88 418.42 L497.69 418.58 L498.5 418.5" class="cv"/>
<path d="M110 465.5V566" class="ax"/>
<path d="M106 566H212.5" class="ax"/>
<path d="M108 561.56H110M108 557.62H110M108 553.68H110M108 549.74H110M108 545.8H110M108 541.86H110M108 537.92H110M108 533.98H110M108 530.04H110M108 526.1H110M108 522.16H110M108 518.22H110M108 514.28H110M108 510.34H110M108 506.4H110M108 502.46H110M108 498.52H110M108 494.58H110M108 490.64H110M108 486.7H110M108 482.76H110M108 478.82H110M108 474.88H110M108 470.94H110M108 467H110" class="mt"/>
<path d="M114.14 566V567.9M118.28 566V567.9M122.42 566V567.9M126.56 566V567.9M130.7 566V567.9M134.84 566V567.9M138.98 566V567.9M143.12 566V567.9M147.26 566V567.9M151.4 566V567.9M155.54 566V567.9M159.68 566V567.9M163.82 566V567.9M167.96 566V567.9M172.1 566V567.9M176.24 566V567.9M180.38 566V567.9M184.52 566V567.9M188.66 566V567.9M192.8 566V567.9M196.94 566V567.9M201.08 566V567.9M205.22 566V567.9M209.36 566V567.9" class="mt"/>
<path d="M106.8 565.5H110" class="tk"/>
<text class="tl" transform="translate(104.7 565.5) rotate(-90)">0</text>
<path d="M106.8 545.8H110" class="tk"/>
<text class="tl" transform="translate(104.7 545.8) rotate(-90)">200</text>
<path d="M106.8 526.1H110" class="tk"/>
<text class="tl" transform="translate(104.7 526.1) rotate(-90)">400</text>
<path d="M106.8 506.4H110" class="tk"/>
<text class="tl" transform="translate(104.7 506.4) rotate(-90)">600</text>
<path d="M106.8 486.7H110" class="tk"/>
<text class="tl" transform="translate(104.7 486.7) rotate(-90)">800</text>
<path d="M110 566V568.6" class="tk"/>
<text class="tl" x="109.3" y="579.9">0</text>
<path d="M130.7 566V568.6" class="tk"/>
<text class="tl" x="130" y="579.9">50</text>
<path d="M151.4 566V568.6" class="tk"/>
<text class="tl" x="150.7" y="579.9">100</text>
<path d="M172.1 566V568.6" class="tk"/>
<text class="tl" x="171.4" y="579.9">150</text>
<path d="M192.8 566V568.6" class="tk"/>
<text class="tl" x="192.1" y="579.9">200</text>
<path d="M213.5 566V568.6" class="tk"/>
<text class="tl" x="212.8" y="579.9">250</text>
<text class="num" x="123" y="475.75">1.8</text>
<path d="M110.5 565 L111.33 564.32 L112.17 563.53 L113 563.49 L114 563.42 L115 564.49 L116 564.97 L117 564.28 L118 563.99 L118.8 564.5 L119.6 564.47 L120.4 564.43 L121.2 565.1 L122 565 L122.8 565.08 L123.6 565.32 L124.4 565.17 L125.2 565.38 L126 564.88 L126.8 564.53 L127.6 564.51 L128.4 565.21 L129.2 564.52 L130 565.12 L130.8 565.07 L131.6 564.36 L132.4 565.26 L133.2 564.31 L134 565.35 L134.8 565.31 L135.6 564.51 L136.4 565.15 L137.2 565.16 L138 564.37 L138.8 565.06 L139.6 564.35 L140.4 565.37 L141.2 565.07 L142 565.44 L142.8 564.22 L143.6 564.56 L144.4 564.95 L145.2 564.93 L146 564.36 L146.8 565.29 L147.6 565.23 L148.4 564.49 L149.2 564.28 L150 564.74 L150.88 564.92 L151.76 564.51 L152.64 564.83 L153.52 564.53 L154.4 564.49 L155.25 560.98 L156.25 518.26 L157.75 475.55 L158.5 493.14 L159.4 524.54 L160.25 545.9 L161.25 554.69 L162.18 555.88 L163.1 557.86 L164.15 556.91 L165.2 557.95 L166.25 559.72 L167.08 559.81 L167.92 560.8 L168.75 560.13 L169.58 561.24 L170.42 560.87 L171.25 560.98 L172.14 562.13 L173.04 561.67 L173.93 560.95 L174.82 560.63 L175.71 560.61 L176.61 560.71 L177.5 561.98 L178.39 562.88 L179.29 562.94 L180.18 562.68 L181.07 561.2 L181.96 562.54 L182.86 561.32 L183.75 562.23 L184.69 562.99 L185.62 562.28 L186.56 562.36 L187.5 561.58 L188.33 561.92 L189.17 561.51 L190 562.64 L190.83 562.98 L191.67 561.29 L192.5 561.98 L193.33 561.76 L194.17 562.42 L195 562.22 L195.83 561.49 L196.67 561.52 L197.5 561.58 L198.45 561.39 L199.4 558.46 L200.23 555.97 L201.07 553.97 L201.9 553.44 L203.1 555.95 L205 562.23 L205.83 563.45 L206.67 563.52 L207.5 564.74 L208.45 564.77 L209.4 563.49 L211 561.58 L211.9 565.4" class="cv"/>
<path d="M253.25 461.25V564.5" class="ax"/>
<path d="M250 564.5H359.2" class="ax"/>
<path d="M251.25 561.04H253.25M251.25 557.58H253.25M251.25 554.12H253.25M251.25 550.66H253.25M251.25 547.2H253.25M251.25 543.74H253.25M251.25 540.28H253.25M251.25 536.82H253.25M251.25 533.36H253.25M251.25 529.9H253.25M251.25 526.44H253.25M251.25 522.98H253.25M251.25 519.52H253.25M251.25 516.06H253.25M251.25 512.6H253.25M251.25 509.14H253.25M251.25 505.68H253.25M251.25 502.22H253.25M251.25 498.76H253.25M251.25 495.3H253.25M251.25 491.84H253.25M251.25 488.38H253.25M251.25 484.92H253.25M251.25 481.46H253.25M251.25 478H253.25M251.25 474.54H253.25M251.25 471.08H253.25M251.25 467.62H253.25M251.25 464.16H253.25" class="mt"/>
<path d="M258.66 564.5V566.4M262.72 564.5V566.4M266.78 564.5V566.4M270.84 564.5V566.4M274.9 564.5V566.4M278.96 564.5V566.4M283.02 564.5V566.4M287.08 564.5V566.4M291.14 564.5V566.4M295.2 564.5V566.4M299.26 564.5V566.4M303.32 564.5V566.4M307.38 564.5V566.4M311.44 564.5V566.4M315.5 564.5V566.4M319.56 564.5V566.4M323.62 564.5V566.4M327.68 564.5V566.4M331.74 564.5V566.4M335.8 564.5V566.4M339.86 564.5V566.4M343.92 564.5V566.4M347.98 564.5V566.4M352.04 564.5V566.4M356.1 564.5V566.4" class="mt"/>
<path d="M250.05 564.5H253.25" class="tk"/>
<text class="tl" transform="translate(247.95 564.5) rotate(-90)">0</text>
<path d="M250.05 547.2H253.25" class="tk"/>
<text class="tl" transform="translate(247.95 547.2) rotate(-90)">100</text>
<path d="M250.05 529.9H253.25" class="tk"/>
<text class="tl" transform="translate(247.95 529.9) rotate(-90)">200</text>
<path d="M250.05 512.6H253.25" class="tk"/>
<text class="tl" transform="translate(247.95 512.6) rotate(-90)">300</text>
<path d="M250.05 495.3H253.25" class="tk"/>
<text class="tl" transform="translate(247.95 495.3) rotate(-90)">400</text>
<path d="M250.05 478H253.25" class="tk"/>
<text class="tl" transform="translate(247.95 478) rotate(-90)">500</text>
<path d="M254.6 564.5V567.1" class="tk"/>
<text class="tl" x="253.9" y="573.1">0</text>
<path d="M274.9 564.5V567.1" class="tk"/>
<text class="tl" x="274.2" y="573.1">50</text>
<path d="M295.2 564.5V567.1" class="tk"/>
<text class="tl" x="294.5" y="573.1">100</text>
<path d="M315.5 564.5V567.1" class="tk"/>
<text class="tl" x="314.8" y="573.1">150</text>
<path d="M335.8 564.5V567.1" class="tk"/>
<text class="tl" x="335.1" y="573.1">200</text>
<path d="M356.1 564.5V567.1" class="tk"/>
<text class="tl" x="355.4" y="573.1">250</text>
<text class="num" x="272.5" y="475">2.9</text>
<path d="M254 563.5 L255.12 562.25 L256.25 560.48 L257.12 560.5 L258 562.49 L259 561.7 L260 561.74 L261 562.16 L262 563.5 L262.8 563.77 L263.61 563.69 L264.41 563.94 L265.22 562.95 L266.02 563.35 L266.83 562.85 L267.63 563.08 L268.44 563.42 L269.24 562.81 L270.05 563.02 L270.85 563.58 L271.66 563.43 L272.46 563.01 L273.27 563.47 L274.07 563.75 L274.88 562.7 L275.68 563.73 L276.49 563.58 L277.29 563.1 L278.1 562.85 L278.9 563.89 L279.71 563.06 L280.51 562.73 L281.32 562.72 L282.12 563.72 L282.93 563.38 L283.73 563.65 L284.54 563.53 L285.34 563.26 L286.15 563.85 L286.95 563.02 L287.76 563.25 L288.56 563.63 L289.37 563.33 L290.17 563.66 L290.98 563.25 L291.78 563.42 L292.59 562.48 L293.39 562.73 L294.2 562.8 L295 563.09 L295.87 562.41 L296.73 562.56 L297.6 562.29 L298.47 562.48 L299.33 562.97 L300.2 562.69 L301.4 552.04 L302.7 513.25 L304 474.36 L304.7 460.4 L305.6 470.55 L306.6 491.25 L307.9 517.17 L309.2 530.03 L310.5 539.18 L312.4 546.91 L313.35 548.54 L314.3 551.44 L315.17 551.97 L316.03 552.43 L316.9 554.65 L317.88 554.46 L318.85 557.49 L319.82 557.11 L320.8 557.26 L321.65 557.93 L322.5 556.89 L323.35 558.91 L324.2 557.55 L325.05 558.51 L325.9 559.17 L326.77 560.63 L327.63 559.79 L328.5 559.68 L329.37 560.13 L330.23 560.66 L331.1 559.88 L331.95 560.48 L332.8 558.93 L333.65 558.27 L334.5 558.91 L335.35 558.66 L336.2 559.17 L337.07 558.45 L337.93 560.52 L338.8 560.4 L339.67 558.94 L340.53 559.93 L341.4 559.58 L342.25 559.35 L343.1 560.77 L343.95 559.62 L344.8 559.16 L345.65 559.17 L346.5 559.88 L347.37 559.18 L348.23 557.42 L349.1 557.26 L350.1 555.61 L351.1 553.35 L352.7 551.84 L353.5 555.17 L354.3 555.36 L355.25 557.3 L356.2 559.88 L357.27 559.62 L358.33 561.9 L359.4 561.18" class="cv"/>
<path d="M395.75 461.25V565" class="ax"/>
<path d="M392 565H495.5" class="ax"/>
<path d="M393.75 561.1H395.75M393.75 557.7H395.75M393.75 554.3H395.75M393.75 550.9H395.75M393.75 547.5H395.75M393.75 544.1H395.75M393.75 540.7H395.75M393.75 537.3H395.75M393.75 533.9H395.75M393.75 530.5H395.75M393.75 527.1H395.75M393.75 523.7H395.75M393.75 520.3H395.75M393.75 516.9H395.75M393.75 513.5H395.75M393.75 510.1H395.75M393.75 506.7H395.75M393.75 503.3H395.75M393.75 499.9H395.75M393.75 496.5H395.75M393.75 493.1H395.75M393.75 489.7H395.75M393.75 486.3H395.75M393.75 482.9H395.75M393.75 479.5H395.75M393.75 476.1H395.75M393.75 472.7H395.75M393.75 469.3H395.75M393.75 465.9H395.75M393.75 462.5H395.75" class="mt"/>
<path d="M400.47 565V566.9M404.49 565V566.9M408.51 565V566.9M412.53 565V566.9M416.55 565V566.9M420.57 565V566.9M424.59 565V566.9M428.61 565V566.9M432.63 565V566.9M436.65 565V566.9M440.67 565V566.9M444.69 565V566.9M448.71 565V566.9M452.73 565V566.9M456.75 565V566.9M460.77 565V566.9M464.79 565V566.9M468.81 565V566.9M472.83 565V566.9M476.85 565V566.9M480.87 565V566.9M484.89 565V566.9M488.91 565V566.9M492.93 565V566.9" class="mt"/>
<path d="M392.55 564.5H395.75" class="tk"/>
<text class="tl" transform="translate(390.45 564.5) rotate(-90)">0</text>
<path d="M392.55 547.5H395.75" class="tk"/>
<text class="tl" transform="translate(390.45 547.5) rotate(-90)">100</text>
<path d="M392.55 530.5H395.75" class="tk"/>
<text class="tl" transform="translate(390.45 530.5) rotate(-90)">200</text>
<path d="M392.55 513.5H395.75" class="tk"/>
<text class="tl" transform="translate(390.45 513.5) rotate(-90)">300</text>
<path d="M392.55 496.5H395.75" class="tk"/>
<text class="tl" transform="translate(390.45 496.5) rotate(-90)">400</text>
<path d="M392.55 479.5H395.75" class="tk"/>
<text class="tl" transform="translate(390.45 479.5) rotate(-90)">500</text>
<path d="M396.45 565V567.6" class="tk"/>
<text class="tl" x="395.75" y="572.6">0</text>
<path d="M416.55 565V567.6" class="tk"/>
<text class="tl" x="415.85" y="572.6">50</text>
<path d="M436.65 565V567.6" class="tk"/>
<text class="tl" x="435.95" y="572.6">100</text>
<path d="M456.75 565V567.6" class="tk"/>
<text class="tl" x="456.05" y="572.6">150</text>
<path d="M476.85 565V567.6" class="tk"/>
<text class="tl" x="476.15" y="572.6">200</text>
<path d="M496.95 565V567.6" class="tk"/>
<text class="tl" x="496.25" y="572.6">250</text>
<text class="num" x="408.75" y="474.5">33.2</text>
<path d="M396.5 564.6 L397.7 558.37 L398.5 564.2 L399.1 559.27 L400.1 563.19 L401.5 556.86 L402.5 555.96 L403.5 559.27 L404.45 559.07 L405.4 561.28 L406.35 561.95 L407.3 560.96 L408.25 561.88 L409.2 562.19 L410.18 562.65 L411.15 563 L412.12 562.48 L413.1 562.69 L414.05 562.56 L415 561.51 L415.95 562.18 L416.9 562.19 L417.88 561.82 L418.85 562.72 L419.82 561.98 L420.8 561.78 L421.75 562.1 L422.7 561.13 L423.65 560.26 L424.6 560.78 L425.58 561.31 L426.55 560.88 L427.52 559.3 L428.5 559.27 L429.45 557.72 L430.4 558.61 L431.35 558.2 L432.3 557.87 L433.27 558.74 L434.25 558.18 L435.23 557.89 L436.2 557.87 L437.03 558.27 L437.87 557.82 L438.7 558.37 L440.1 546.21 L441 525.91 L442.1 498.78 L443.1 476.88 L443.7 498.78 L444.8 516.37 L446.2 528.62 L448.2 540.78 L449.5 548.82 L450.5 548.09 L451.5 551.54 L452.4 550.57 L453.3 555.15 L454.2 554.25 L455.1 556.43 L456 555.33 L456.9 556.96 L457.8 558.5 L458.7 557.5 L459.6 556.37 L460.5 559.04 L461.4 558.4 L462.3 558.37 L463.2 559.9 L464.1 559.34 L465 557.83 L465.9 559.59 L466.8 560.27 L467.7 559.67 L468.54 560.78 L469.38 559.21 L470.21 559.75 L471.05 560.23 L471.89 558.75 L472.72 560.64 L473.56 560.45 L474.4 559.67 L475.24 558.43 L476.07 559.93 L476.91 559.31 L477.75 558.8 L478.59 559.96 L479.43 560.97 L480.26 559.82 L481.1 559.67 L482 558.13 L482.9 558.79 L483.8 558.37 L484.85 557.96 L485.9 555.65 L486.75 556.22 L487.6 553.24 L489.2 555.65 L490.2 558.03 L491.2 558.97 L492.25 558.4 L493.3 560.38 L494.3 562.45 L495.3 562.39" class="cv"/>
<path d="M110.75 609.5V716.5" class="ax"/>
<path d="M107 716.5H213.75" class="ax"/>
<path d="M108.75 711H110.75M108.75 705.75H110.75M108.75 700.5H110.75M108.75 695.25H110.75M108.75 690H110.75M108.75 684.75H110.75M108.75 679.5H110.75M108.75 674.25H110.75M108.75 669H110.75M108.75 663.75H110.75M108.75 658.5H110.75M108.75 653.25H110.75M108.75 648H110.75M108.75 642.75H110.75M108.75 637.5H110.75M108.75 632.25H110.75M108.75 627H110.75M108.75 621.75H110.75M108.75 616.5H110.75M108.75 611.25H110.75" class="mt"/>
<path d="M115.31 716.5V718.4M119.42 716.5V718.4M123.53 716.5V718.4M127.64 716.5V718.4M131.75 716.5V718.4M135.86 716.5V718.4M139.97 716.5V718.4M144.08 716.5V718.4M148.19 716.5V718.4M152.3 716.5V718.4M156.41 716.5V718.4M160.52 716.5V718.4M164.63 716.5V718.4M168.74 716.5V718.4M172.85 716.5V718.4M176.96 716.5V718.4M181.07 716.5V718.4M185.18 716.5V718.4M189.29 716.5V718.4M193.4 716.5V718.4M197.51 716.5V718.4M201.62 716.5V718.4M205.73 716.5V718.4M209.84 716.5V718.4" class="mt"/>
<path d="M107.55 716.25H110.75" class="tk"/>
<text class="tl" transform="translate(105.45 716.25) rotate(-90)">0</text>
<path d="M107.55 690H110.75" class="tk"/>
<text class="tl" transform="translate(105.45 690) rotate(-90)">200</text>
<path d="M107.55 663.75H110.75" class="tk"/>
<text class="tl" transform="translate(105.45 663.75) rotate(-90)">400</text>
<path d="M107.55 637.5H110.75" class="tk"/>
<text class="tl" transform="translate(105.45 637.5) rotate(-90)">600</text>
<path d="M111.2 716.5V719.1" class="tk"/>
<text class="tl" x="110.5" y="723.85">0</text>
<path d="M131.75 716.5V719.1" class="tk"/>
<text class="tl" x="131.05" y="723.85">50</text>
<path d="M152.3 716.5V719.1" class="tk"/>
<text class="tl" x="151.6" y="723.85">100</text>
<path d="M172.85 716.5V719.1" class="tk"/>
<text class="tl" x="172.15" y="723.85">150</text>
<path d="M193.4 716.5V719.1" class="tk"/>
<text class="tl" x="192.7" y="723.85">200</text>
<path d="M213.95 716.5V719.1" class="tk"/>
<text class="tl" x="213.25" y="723.85">250</text>
<text class="num" x="124.5" y="620.5">0.9</text>
<path d="M111 715.5 L112 714.8 L113 714.83 L114 714.49 L115.12 713.77 L116.25 714.24 L117.17 715.18 L118.08 714.69 L119 715.5 L119.82 715.54 L120.63 715.98 L121.45 715.32 L122.26 716.01 L123.08 715.71 L123.89 715.46 L124.71 715.55 L125.53 715.48 L126.34 715.17 L127.16 715.98 L127.97 715.2 L128.79 715.94 L129.61 715.75 L130.42 714.65 L131.24 714.93 L132.05 715.21 L132.87 715.65 L133.68 714.77 L134.5 715.35 L135.32 714.99 L136.13 715.56 L136.95 715.74 L137.76 715.5 L138.58 714.68 L139.39 715.47 L140.21 714.99 L141.03 715.55 L141.84 715.01 L142.66 715.63 L143.47 715.73 L144.29 715.48 L145.11 715.47 L145.92 715.45 L146.74 715.09 L147.55 714.45 L148.37 715.66 L149.18 714.85 L150 714.89 L150.84 714.16 L151.69 714.79 L152.53 714.76 L153.37 714.44 L154.21 715.59 L155.06 714.3 L155.9 714.89 L157.2 697.11 L158.5 657.62 L159.4 624.77 L160.2 610.5 L161.1 620.75 L162.1 651.09 L163.1 683.95 L164.2 697.11 L165.7 705.05 L166.57 707.9 L167.43 707.84 L168.3 708.96 L169.1 708.34 L169.9 709.33 L170.7 710.02 L171.5 709.46 L172.3 710.97 L173.17 711.86 L174.03 711.69 L174.9 712.73 L175.77 712.46 L176.63 712.48 L177.5 711.88 L178.32 713.25 L179.15 713.17 L179.97 712.54 L180.8 712.38 L181.62 712.44 L182.45 713.24 L183.28 713.59 L184.1 712.68 L184.97 713.5 L185.83 713.57 L186.7 711.75 L187.57 712.7 L188.43 712 L189.3 712.98 L190.18 713.06 L191.07 712.94 L191.95 712.78 L192.83 713.37 L193.72 711.73 L194.6 712.28 L195.47 712.84 L196.33 712.49 L197.2 711.57 L198.07 713.46 L198.93 711.18 L199.8 712.28 L200.67 711.52 L201.53 711.04 L202.4 710.27 L204.4 705.05 L205.25 704.15 L206.1 702.43 L207.7 705.05 L208.65 708.2 L209.6 707.66 L210.6 709.13 L211.6 710.27 L212.6 712.65 L213.6 712.98" class="cv"/>
<path d="M253.25 610V716" class="ax"/>
<path d="M250 716H355" class="ax"/>
<path d="M251.25 711.96H253.25M251.25 708.42H253.25M251.25 704.88H253.25M251.25 701.34H253.25M251.25 697.8H253.25M251.25 694.26H253.25M251.25 690.72H253.25M251.25 687.18H253.25M251.25 683.64H253.25M251.25 680.1H253.25M251.25 676.56H253.25M251.25 673.02H253.25M251.25 669.48H253.25M251.25 665.94H253.25M251.25 662.4H253.25M251.25 658.86H253.25M251.25 655.32H253.25M251.25 651.78H253.25M251.25 648.24H253.25M251.25 644.7H253.25M251.25 641.16H253.25M251.25 637.62H253.25M251.25 634.08H253.25M251.25 630.54H253.25M251.25 627H253.25M251.25 623.46H253.25M251.25 619.92H253.25M251.25 616.38H253.25M251.25 612.84H253.25" class="mt"/>
<path d="M258.34 716V717.9M262.38 716V717.9M266.42 716V717.9M270.46 716V717.9M274.5 716V717.9M278.54 716V717.9M282.58 716V717.9M286.62 716V717.9M290.66 716V717.9M294.7 716V717.9M298.74 716V717.9M302.78 716V717.9M306.82 716V717.9M310.86 716V717.9M314.9 716V717.9M318.94 716V717.9M322.98 716V717.9M327.02 716V717.9M331.06 716V717.9M335.1 716V717.9M339.14 716V717.9M343.18 716V717.9M347.22 716V717.9M351.26 716V717.9" class="mt"/>
<path d="M250.05 715.5H253.25" class="tk"/>
<text class="tl" transform="translate(247.95 715.5) rotate(-90)">0</text>
<path d="M250.05 697.8H253.25" class="tk"/>
<text class="tl" transform="translate(247.95 697.8) rotate(-90)">100</text>
<path d="M250.05 680.1H253.25" class="tk"/>
<text class="tl" transform="translate(247.95 680.1) rotate(-90)">200</text>
<path d="M250.05 662.4H253.25" class="tk"/>
<text class="tl" transform="translate(247.95 662.4) rotate(-90)">300</text>
<path d="M250.05 644.7H253.25" class="tk"/>
<text class="tl" transform="translate(247.95 644.7) rotate(-90)">400</text>
<path d="M250.05 627H253.25" class="tk"/>
<text class="tl" transform="translate(247.95 627) rotate(-90)">500</text>
<path d="M254.3 716V718.6" class="tk"/>
<text class="tl" x="253.6" y="724">0</text>
<path d="M274.5 716V718.6" class="tk"/>
<text class="tl" x="273.8" y="724">50</text>
<path d="M294.7 716V718.6" class="tk"/>
<text class="tl" x="294" y="724">100</text>
<path d="M314.9 716V718.6" class="tk"/>
<text class="tl" x="314.2" y="724">150</text>
<path d="M335.1 716V718.6" class="tk"/>
<text class="tl" x="334.4" y="724">200</text>
<path d="M355.3 716V718.6" class="tk"/>
<text class="tl" x="354.6" y="724">250</text>
<text class="num" x="267" y="619.5">37.9</text>
<path d="M253.9 713.49 L253.9 681.34 L254.4 712.89 L255.3 714.09 L256.15 714.25 L257 712.89 L258.5 708.16 L259.4 711.68 L260.55 710.48 L261.7 711.18 L262.6 711.1 L263.5 709.93 L264.4 710.51 L265.3 708.77 L266.18 707.93 L267.05 708.82 L267.93 706.01 L268.8 706.45 L269.77 706.87 L270.73 703.74 L271.7 702.84 L272.5 700.88 L273.3 700.71 L274.1 700.53 L275.1 700.3 L276.1 699.02 L277.15 698.22 L278.2 701.13 L279.17 701.48 L280.13 700.89 L281.1 703.44 L282.07 702.66 L283.03 703.75 L284 705.55 L285.2 705.41 L286.4 706.96 L287.55 708.16 L288.7 710.57 L289.7 711.76 L290.7 711.54 L291.7 712.28 L292.57 712.9 L293.45 712.92 L294.32 712.84 L295.2 711.98 L296.05 712.25 L296.9 710.57 L297.9 691.69 L298.7 656.32 L299.9 621.86 L300.7 638.64 L301.6 668.07 L302.8 691.69 L304 702.34 L305.2 706.96 L306.05 708.33 L306.9 709.27 L308.05 710 L309.2 709.87 L310.35 711.09 L311.5 710.47 L312.42 710.76 L313.34 710.02 L314.26 711.06 L315.18 711.26 L316.1 711.38 L317.04 710.8 L317.98 710.72 L318.92 711.02 L319.86 712.19 L320.8 711.88 L321.72 712.57 L322.64 712.31 L323.56 711.92 L324.48 711.19 L325.4 712.18 L326.32 711.35 L327.24 712.72 L328.16 712.6 L329.08 712.59 L330 712.78 L330.92 712.33 L331.84 712.38 L332.76 712.61 L333.68 712.65 L334.6 713.39 L335.48 713.55 L336.35 713.08 L337.23 713.48 L338.1 713.39 L339.25 712.66 L340.4 712.18 L341.55 711.13 L342.7 709.87 L343.55 709.95 L344.4 708.77 L345.25 710.33 L346.1 710.47 L347.25 709.33 L348.4 709.87 L349.55 711.55 L350.7 711.08 L351.5 712.01 L352.3 712.1 L353.1 711.58 L353.95 712.4 L354.8 713.39 L355.9 715.1" class="cv" style="stroke-width:2.2"/>
<path d="M394.3 608.9V712.5" class="ax"/>
<path d="M391 712.5H502" class="ax"/>
<path d="M392.3 707.98H394.3M392.3 703.95H394.3M392.3 699.93H394.3M392.3 695.9H394.3M392.3 691.88H394.3M392.3 687.85H394.3M392.3 683.83H394.3M392.3 679.8H394.3M392.3 675.78H394.3M392.3 671.75H394.3M392.3 667.73H394.3M392.3 663.7H394.3M392.3 659.68H394.3M392.3 655.65H394.3M392.3 651.63H394.3M392.3 647.6H394.3M392.3 643.58H394.3M392.3 639.55H394.3M392.3 635.53H394.3M392.3 631.5H394.3M392.3 627.48H394.3M392.3 623.45H394.3M392.3 619.43H394.3M392.3 615.4H394.3M392.3 611.38H394.3" class="mt"/>
<path d="M399.14 712.5V714.4M403.28 712.5V714.4M407.42 712.5V714.4M411.56 712.5V714.4M415.7 712.5V714.4M419.84 712.5V714.4M423.98 712.5V714.4M428.12 712.5V714.4M432.26 712.5V714.4M436.4 712.5V714.4M440.54 712.5V714.4M444.68 712.5V714.4M448.82 712.5V714.4M452.96 712.5V714.4M457.1 712.5V714.4M461.24 712.5V714.4M465.38 712.5V714.4M469.52 712.5V714.4M473.66 712.5V714.4M477.8 712.5V714.4M481.94 712.5V714.4M486.08 712.5V714.4M490.22 712.5V714.4M494.36 712.5V714.4M498.5 712.5V714.4" class="mt"/>
<path d="M391.1 712H394.3" class="tk"/>
<text class="tl" transform="translate(389 712) rotate(-90)">0</text>
<path d="M391.1 691.88H394.3" class="tk"/>
<text class="tl" transform="translate(389 691.88) rotate(-90)">70</text>
<path d="M391.1 671.75H394.3" class="tk"/>
<text class="tl" transform="translate(389 671.75) rotate(-90)">140</text>
<path d="M391.1 651.62H394.3" class="tk"/>
<text class="tl" transform="translate(389 651.62) rotate(-90)">210</text>
<path d="M391.1 631.5H394.3" class="tk"/>
<text class="tl" transform="translate(389 631.5) rotate(-90)">280</text>
<path d="M395 712.5V715.1" class="tk"/>
<text class="tl" x="394.3" y="720.6">0</text>
<path d="M415.7 712.5V715.1" class="tk"/>
<text class="tl" x="415" y="720.6">50</text>
<path d="M436.4 712.5V715.1" class="tk"/>
<text class="tl" x="435.7" y="720.6">100</text>
<path d="M457.1 712.5V715.1" class="tk"/>
<text class="tl" x="456.4" y="720.6">150</text>
<path d="M477.8 712.5V715.1" class="tk"/>
<text class="tl" x="477.1" y="720.6">200</text>
<path d="M498.5 712.5V715.1" class="tk"/>
<text class="tl" x="497.8" y="720.6">250</text>
<text class="num" x="409.5" y="619.25">61.3</text>
<path d="M395.2 711.5 L395.2 656.23 L395.6 700.44 L396 702.45 L396.6 711.5 L397.6 704.46 L398.4 711.5 L399.4 711.5 L400.3 670.8 L402.1 682.56 L404.2 692.2 L406.9 699.04 L407.72 700.1 L408.54 701.81 L409.36 700.54 L410.18 702.14 L411 701.85 L411.93 704.36 L412.87 703.66 L413.8 704.46 L414.62 704.49 L415.44 703.7 L416.26 703.44 L417.08 699.38 L417.9 700.44 L418.72 698.19 L419.54 701 L420.36 699.1 L421.18 696.02 L422 696.32 L422.8 697.9 L423.6 695.61 L424.4 696.94 L425.2 697.74 L426 698.43 L426.8 697.11 L427.6 696.59 L428.4 698.16 L429.2 698.7 L430 697.1 L430.8 698.57 L431.6 697.73 L432.5 698.24 L433.4 691.75 L434.3 692.2 L435 698.33 L435.9 696.84 L436.8 695.48 L437.7 696.92 L439.7 691.5 L440.7 672.61 L441.5 652.31 L442.4 634.72 L443.1 629.3 L443.7 626.59 L444.7 612.42 L445.8 621.26 L446.4 638.74 L447.4 665.87 L448.5 688.79 L449.8 698.33 L450.8 700.74 L451.8 701.65 L452.65 702.09 L453.5 702.98 L454.35 703.1 L455.2 704.76 L456 705.95 L456.8 706.16 L457.6 705.44 L458.4 706.89 L459.2 706.17 L460.1 705.52 L461 706.01 L461.9 707.95 L462.8 705.99 L463.7 705.91 L464.6 707.07 L465.5 705.9 L466.4 707.78 L467.3 708.29 L468.2 706.35 L469.1 707.6 L470 707.78 L470.9 707.46 L471.8 707.22 L472.7 706.92 L473.6 707.27 L474.5 706.57 L475.4 707.48 L476.3 708.49 L477.2 706.38 L478.1 707.17 L479 707.34 L479.9 707.26 L480.8 706.67 L481.68 706.45 L482.57 706.44 L483.45 707.53 L484.33 705.08 L485.22 705 L486.1 705.77 L487 703.86 L487.9 704.16 L488.8 702.05 L489.7 702.33 L490.6 702.79 L491.5 703.76 L492.4 702 L493.3 701.93 L494.2 703.05 L495.1 704.26 L496 703.47 L496.9 705.06 L497.8 705.85 L498.7 706.13 L499.6 707.78 L501.2 709.08" class="cv" style="stroke-width:2.4"/>
<path d="M111.25 767V867" class="ax"/>
<path d="M108 867H226.7" class="ax"/>
<path d="M109.25 863.09H111.25M109.25 859.18H111.25M109.25 855.26H111.25M109.25 851.35H111.25M109.25 847.44H111.25M109.25 843.53H111.25M109.25 839.62H111.25M109.25 835.7H111.25M109.25 831.79H111.25M109.25 827.88H111.25M109.25 823.97H111.25M109.25 820.06H111.25M109.25 816.14H111.25M109.25 812.23H111.25M109.25 808.32H111.25M109.25 804.41H111.25M109.25 800.5H111.25M109.25 796.58H111.25M109.25 792.67H111.25M109.25 788.76H111.25M109.25 784.85H111.25M109.25 780.94H111.25M109.25 777.02H111.25M109.25 773.11H111.25M109.25 769.2H111.25" class="mt"/>
<path d="M119.3 867V868.9M123.4 867V868.9M127.5 867V868.9M131.6 867V868.9M135.7 867V868.9M139.8 867V868.9M143.9 867V868.9M148 867V868.9M152.1 867V868.9M156.2 867V868.9M160.3 867V868.9M164.4 867V868.9M168.5 867V868.9M172.6 867V868.9M176.7 867V868.9M180.8 867V868.9M184.9 867V868.9M189 867V868.9M193.1 867V868.9M197.2 867V868.9M201.3 867V868.9M205.4 867V868.9M209.5 867V868.9M213.6 867V868.9M217.7 867V868.9M221.8 867V868.9" class="mt"/>
<path d="M108.05 867H111.25" class="tk"/>
<text class="tl" transform="translate(105.95 867) rotate(-90)">0</text>
<path d="M108.05 847.44H111.25" class="tk"/>
<text class="tl" transform="translate(105.95 847.44) rotate(-90)">200</text>
<path d="M108.05 827.88H111.25" class="tk"/>
<text class="tl" transform="translate(105.95 827.88) rotate(-90)">400</text>
<path d="M108.05 808.32H111.25" class="tk"/>
<text class="tl" transform="translate(105.95 808.32) rotate(-90)">600</text>
<path d="M108.05 788.76H111.25" class="tk"/>
<text class="tl" transform="translate(105.95 788.76) rotate(-90)">800</text>
<path d="M115.2 867V869.6" class="tk"/>
<text class="tl" x="114.5" y="875.35">0</text>
<path d="M135.7 867V869.6" class="tk"/>
<text class="tl" x="135" y="875.35">50</text>
<path d="M156.2 867V869.6" class="tk"/>
<text class="tl" x="155.5" y="875.35">100</text>
<path d="M176.7 867V869.6" class="tk"/>
<text class="tl" x="176" y="875.35">150</text>
<path d="M197.2 867V869.6" class="tk"/>
<text class="tl" x="196.5" y="875.35">200</text>
<path d="M217.7 867V869.6" class="tk"/>
<text class="tl" x="217" y="875.35">250</text>
<text class="num" x="126.25" y="763">0.8</text>
<path d="M112 866.8 L113.05 865.13 L114.1 863.48 L115.4 865.49 L116.27 865.6 L117.14 866 L118.01 865.32 L118.89 865.35 L119.76 865.91 L120.63 865.65 L121.5 865.69 L122.34 865.53 L123.17 865.63 L124.01 865.56 L124.85 865.39 L125.69 866.02 L126.53 866.38 L127.36 866.15 L128.2 866.11 L129.04 865.78 L129.88 865.93 L130.71 865.62 L131.55 866.33 L132.39 865.87 L133.22 865.9 L134.06 866.69 L134.9 866.2 L135.74 866.02 L136.59 866.71 L137.43 866.32 L138.28 866.48 L139.12 866.33 L139.96 865.85 L140.81 866.43 L141.65 865.94 L142.49 866.1 L143.34 865.8 L144.18 865.72 L145.03 866.05 L145.87 865.67 L146.71 866.07 L147.56 866.57 L148.4 866.2 L149.21 866.73 L150.03 866.11 L150.84 865.77 L151.66 866.03 L152.47 865.73 L153.29 865.89 L154.1 866.33 L154.91 866.32 L155.73 865.69 L156.54 866.18 L157.36 866.11 L158.17 866.09 L158.99 865.8 L159.8 866.2 L160.8 854.64 L161.8 820.87 L162.9 787 L163.9 768.31 L164.8 780.27 L165.6 800.57 L166.5 834.34 L167.5 851.92 L169.2 860.07 L170.1 860.9 L171 861.31 L171.9 863.48 L172.75 864.04 L173.6 864.11 L174.45 864.21 L175.3 864.09 L176.24 863.94 L177.18 865.09 L178.12 863.94 L179.06 863.66 L180 864.29 L180.83 863.95 L181.67 864.97 L182.5 863.35 L183.33 864.52 L184.17 864.82 L185 864.57 L185.83 863.66 L186.67 863.55 L187.5 864.41 L188.33 863.98 L189.17 864.12 L190 862.61 L190.83 863.52 L191.67 863.75 L192.5 862.49 L193.33 862.34 L194.17 863.78 L195 862.88 L195.81 862.93 L196.62 862.42 L197.44 862.49 L198.25 861.78 L199.06 861.63 L199.87 861.13 L200.68 861.79 L201.49 860.98 L202.31 862.9 L203.12 862.96 L203.93 861.83 L204.74 860.3 L205.55 861.62 L206.36 860.23 L207.18 860.73 L207.99 859.89 L208.8 860.87 L209.95 860.26 L211.1 859.66 L212.07 856.39 L213.03 855.31 L214 854.44 L214.8 854.14 L215.6 855.91 L216.4 858.5 L217.2 857.94 L218 858.46 L219 861.08 L220 862.55 L221 863.68 L221.92 863.99 L222.84 863.29 L223.76 863.55 L224.68 863.98 L225.6 864.89" class="cv"/>
<path d="M252.5 764.5V868" class="ax"/>
<path d="M249 868H356.25" class="ax"/>
<path d="M250.5 863.38H252.5M250.5 859.26H252.5M250.5 855.14H252.5M250.5 851.02H252.5M250.5 846.9H252.5M250.5 842.78H252.5M250.5 838.66H252.5M250.5 834.54H252.5M250.5 830.42H252.5M250.5 826.3H252.5M250.5 822.18H252.5M250.5 818.06H252.5M250.5 813.94H252.5M250.5 809.82H252.5M250.5 805.7H252.5M250.5 801.58H252.5M250.5 797.46H252.5M250.5 793.34H252.5M250.5 789.22H252.5M250.5 785.1H252.5M250.5 780.98H252.5M250.5 776.86H252.5M250.5 772.74H252.5M250.5 768.62H252.5" class="mt"/>
<path d="M256.88 868V869.9M260.96 868V869.9M265.04 868V869.9M269.12 868V869.9M273.2 868V869.9M277.28 868V869.9M281.36 868V869.9M285.44 868V869.9M289.52 868V869.9M293.6 868V869.9M297.68 868V869.9M301.76 868V869.9M305.84 868V869.9M309.92 868V869.9M314 868V869.9M318.08 868V869.9M322.16 868V869.9M326.24 868V869.9M330.32 868V869.9M334.4 868V869.9M338.48 868V869.9M342.56 868V869.9M346.64 868V869.9M350.72 868V869.9M354.8 868V869.9" class="mt"/>
<path d="M249.3 867.5H252.5" class="tk"/>
<text class="tl" transform="translate(247.2 867.5) rotate(-90)">0</text>
<path d="M249.3 846.9H252.5" class="tk"/>
<text class="tl" transform="translate(247.2 846.9) rotate(-90)">200</text>
<path d="M249.3 826.3H252.5" class="tk"/>
<text class="tl" transform="translate(247.2 826.3) rotate(-90)">400</text>
<path d="M249.3 805.7H252.5" class="tk"/>
<text class="tl" transform="translate(247.2 805.7) rotate(-90)">600</text>
<path d="M249.3 785.1H252.5" class="tk"/>
<text class="tl" transform="translate(247.2 785.1) rotate(-90)">800</text>
<path d="M252.8 868V870.6" class="tk"/>
<text class="tl" x="255" y="875.6">0</text>
<path d="M273.2 868V870.6" class="tk"/>
<text class="tl" x="275.4" y="875.6">50</text>
<path d="M293.6 868V870.6" class="tk"/>
<text class="tl" x="295.8" y="875.6">100</text>
<path d="M314 868V870.6" class="tk"/>
<text class="tl" x="316.2" y="875.6">150</text>
<path d="M334.4 868V870.6" class="tk"/>
<text class="tl" x="336.6" y="875.6">200</text>
<path d="M354.8 868V870.6" class="tk"/>
<text class="tl" x="357" y="875.6">250</text>
<text class="num" x="267.5" y="763">6.2</text>
<path d="M253 866.49 L254 867.12 L255 866.49 L255.5 862.98 L256.2 866.49 L257.5 866.74 L258.3 866.25 L259.11 867.31 L259.91 866.24 L260.71 866.51 L261.52 867.1 L262.32 866.26 L263.12 866.44 L263.93 865.87 L264.73 867.05 L265.54 867.06 L266.34 865.73 L267.14 865.6 L267.95 866.12 L268.75 866.15 L269.55 866.53 L270.36 865.76 L271.16 866.13 L271.96 865.35 L272.77 865.39 L273.57 865.11 L274.38 865.88 L275.18 865.87 L275.98 865.92 L276.79 866.47 L277.59 865.26 L278.39 865.28 L279.2 865.46 L280 865.49 L280.83 866.37 L281.67 865.21 L282.5 865.23 L283.33 865.52 L284.17 866.04 L285 865.34 L285.83 865.2 L286.67 866.23 L287.5 866 L288.33 866.04 L289.17 865.11 L290 865.99 L290.9 865.49 L291.8 865.16 L292.7 865.55 L293.6 866.46 L294.5 866.55 L295.4 865.59 L296.7 853.23 L297.8 819.37 L299.4 781.48 L300.5 805.8 L301.4 832.93 L302.4 853.23 L303.5 860.66 L304.4 862.59 L305.3 862.04 L306.2 863.28 L307 863.59 L307.8 864.56 L308.6 863.31 L309.4 863.59 L310.2 863.98 L311.04 864.37 L311.88 863.31 L312.71 863.5 L313.55 863.07 L314.39 864.13 L315.22 863.2 L316.06 861.94 L316.9 862.88 L317.74 861.43 L318.57 863.04 L319.41 861.46 L320.25 862.9 L321.09 861.52 L321.93 862.29 L322.76 861.63 L323.6 861.97 L324.45 862.34 L325.3 860.7 L326.15 861.43 L327 862.09 L327.85 860.8 L328.7 862.95 L329.55 862.88 L330.4 861.27 L331.24 862.66 L332.07 862.48 L332.91 862.44 L333.75 861.19 L334.59 861.97 L335.43 860.51 L336.26 859.34 L337.1 860.66 L338 861.83 L338.9 861.6 L339.8 859.96 L340.8 857.71 L341.8 857.25 L343.2 855.64 L344.5 857.95 L345.5 859.54 L346.5 861.97 L347.4 862.15 L348.3 864.3 L349.2 864.68 L350.02 864.25 L350.84 865.84 L351.66 864.58 L352.48 865.55 L353.3 865.99 L354.3 867.08 L355.3 867.4" class="cv"/>
<path d="M393.1 762.4V865.5" class="ax"/>
<path d="M389 865.5H517" class="ax"/>
<path d="M391.1 860.86H393.1M391.1 856.72H393.1M391.1 852.58H393.1M391.1 848.44H393.1M391.1 844.3H393.1M391.1 840.16H393.1M391.1 836.02H393.1M391.1 831.88H393.1M391.1 827.74H393.1M391.1 823.6H393.1M391.1 819.46H393.1M391.1 815.32H393.1M391.1 811.18H393.1M391.1 807.04H393.1M391.1 802.9H393.1M391.1 798.76H393.1M391.1 794.62H393.1M391.1 790.48H393.1M391.1 786.34H393.1M391.1 782.2H393.1M391.1 778.06H393.1M391.1 773.92H393.1M391.1 769.78H393.1M391.1 765.64H393.1" class="mt"/>
<path d="M401.05 865.5V867.4M405.15 865.5V867.4M409.25 865.5V867.4M413.35 865.5V867.4M417.45 865.5V867.4M421.55 865.5V867.4M425.65 865.5V867.4M429.75 865.5V867.4M433.85 865.5V867.4M437.95 865.5V867.4M442.05 865.5V867.4M446.15 865.5V867.4M450.25 865.5V867.4M454.35 865.5V867.4M458.45 865.5V867.4M462.55 865.5V867.4M466.65 865.5V867.4M470.75 865.5V867.4M474.85 865.5V867.4M478.95 865.5V867.4M483.05 865.5V867.4M487.15 865.5V867.4M491.25 865.5V867.4M495.35 865.5V867.4M499.45 865.5V867.4M503.55 865.5V867.4M507.65 865.5V867.4M511.75 865.5V867.4M515.85 865.5V867.4" class="mt"/>
<path d="M389.9 865H393.1" class="tk"/>
<text class="tl" transform="translate(387.8 865) rotate(-90)">0</text>
<path d="M389.9 844.3H393.1" class="tk"/>
<text class="tl" transform="translate(387.8 844.3) rotate(-90)">200</text>
<path d="M389.9 823.6H393.1" class="tk"/>
<text class="tl" transform="translate(387.8 823.6) rotate(-90)">400</text>
<path d="M389.9 802.9H393.1" class="tk"/>
<text class="tl" transform="translate(387.8 802.9) rotate(-90)">600</text>
<path d="M389.9 782.2H393.1" class="tk"/>
<text class="tl" transform="translate(387.8 782.2) rotate(-90)">800</text>
<path d="M396.95 865.5V868.1" class="tk"/>
<text class="tl" x="396.25" y="874.6">0</text>
<path d="M417.45 865.5V868.1" class="tk"/>
<text class="tl" x="416.75" y="874.6">50</text>
<path d="M437.95 865.5V868.1" class="tk"/>
<text class="tl" x="437.25" y="874.6">100</text>
<path d="M458.45 865.5V868.1" class="tk"/>
<text class="tl" x="457.75" y="874.6">150</text>
<path d="M478.95 865.5V868.1" class="tk"/>
<text class="tl" x="478.25" y="874.6">200</text>
<path d="M499.45 865.5V868.1" class="tk"/>
<text class="tl" x="498.75" y="874.6">250</text>
<text class="num" x="403" y="762">74.3</text>
<path d="M394 864.5 L395.4 849.62 L396.3 861.78 L397.4 864.5 L398.1 849.62 L399 815.86 L399.8 825.31 L400.4 836.16 L401.5 841.48 L402.8 849.62 L403.8 851.31 L404.8 853.64 L405.8 854.67 L406.8 857.76 L408.2 851.03 L409.2 855.35 L410.2 855.05 L412.2 848.32 L414.9 841.48 L415.8 839.11 L416.7 833.47 L417.6 834.75 L419.6 826.61 L421 815.86 L422.7 806.31 L424.1 795.56 L425 784.71 L426.4 790.13 L427.7 777.98 L429 782 L430 766.42 L430.8 779.28 L431.7 787.42 L433.1 795.56 L434.4 792.85 L435.4 806.31 L437.1 813.15 L439.1 819.88 L441.2 829.32 L443.2 841.48 L444.3 846.91 L445.9 830.73 L447.2 811.74 L448.8 805.71 L450.2 815.86 L451.3 833.44 L452.6 841.48 L454.6 846.91 L455.53 849.85 L456.47 846.73 L457.4 850.73 L458.7 846.61 L460.8 852.74 L461.7 851.29 L462.6 850.82 L463.5 853.44 L464.3 853.49 L465.1 854.08 L465.9 852.06 L466.7 849 L467.5 850.02 L468.4 853.66 L469.3 855.26 L470.2 854.75 L471.05 852.62 L471.9 851.08 L472.75 852.26 L473.6 850.02 L474.9 856.76 L475.9 858.73 L476.9 856.15 L477.72 858.28 L478.54 858.21 L479.36 857.55 L480.18 855.34 L481 856.76 L481.8 857.56 L482.6 856.99 L483.4 858.23 L484.2 857.83 L485 858.16 L485.8 856.89 L486.6 859.89 L487.4 856.15 L488.2 857.48 L489 858.16 L489.8 857.7 L490.6 860.64 L491.4 857.38 L492.2 859.52 L493 859.47 L493.82 860.87 L494.64 859.13 L495.46 860.1 L496.28 857.4 L497.1 857.46 L497.9 857.59 L498.7 857.71 L499.5 858.12 L500.3 858.45 L501.1 859.47 L501.92 858.12 L502.74 861.85 L503.56 861.17 L504.38 861.23 L505.2 860.88 L506 860.99 L506.8 859.85 L507.6 859.93 L508.4 862.49 L509.2 860.88 L510.6 862.18" class="cv" style="stroke-width:2.5"/>
</svg>
</body></html>
